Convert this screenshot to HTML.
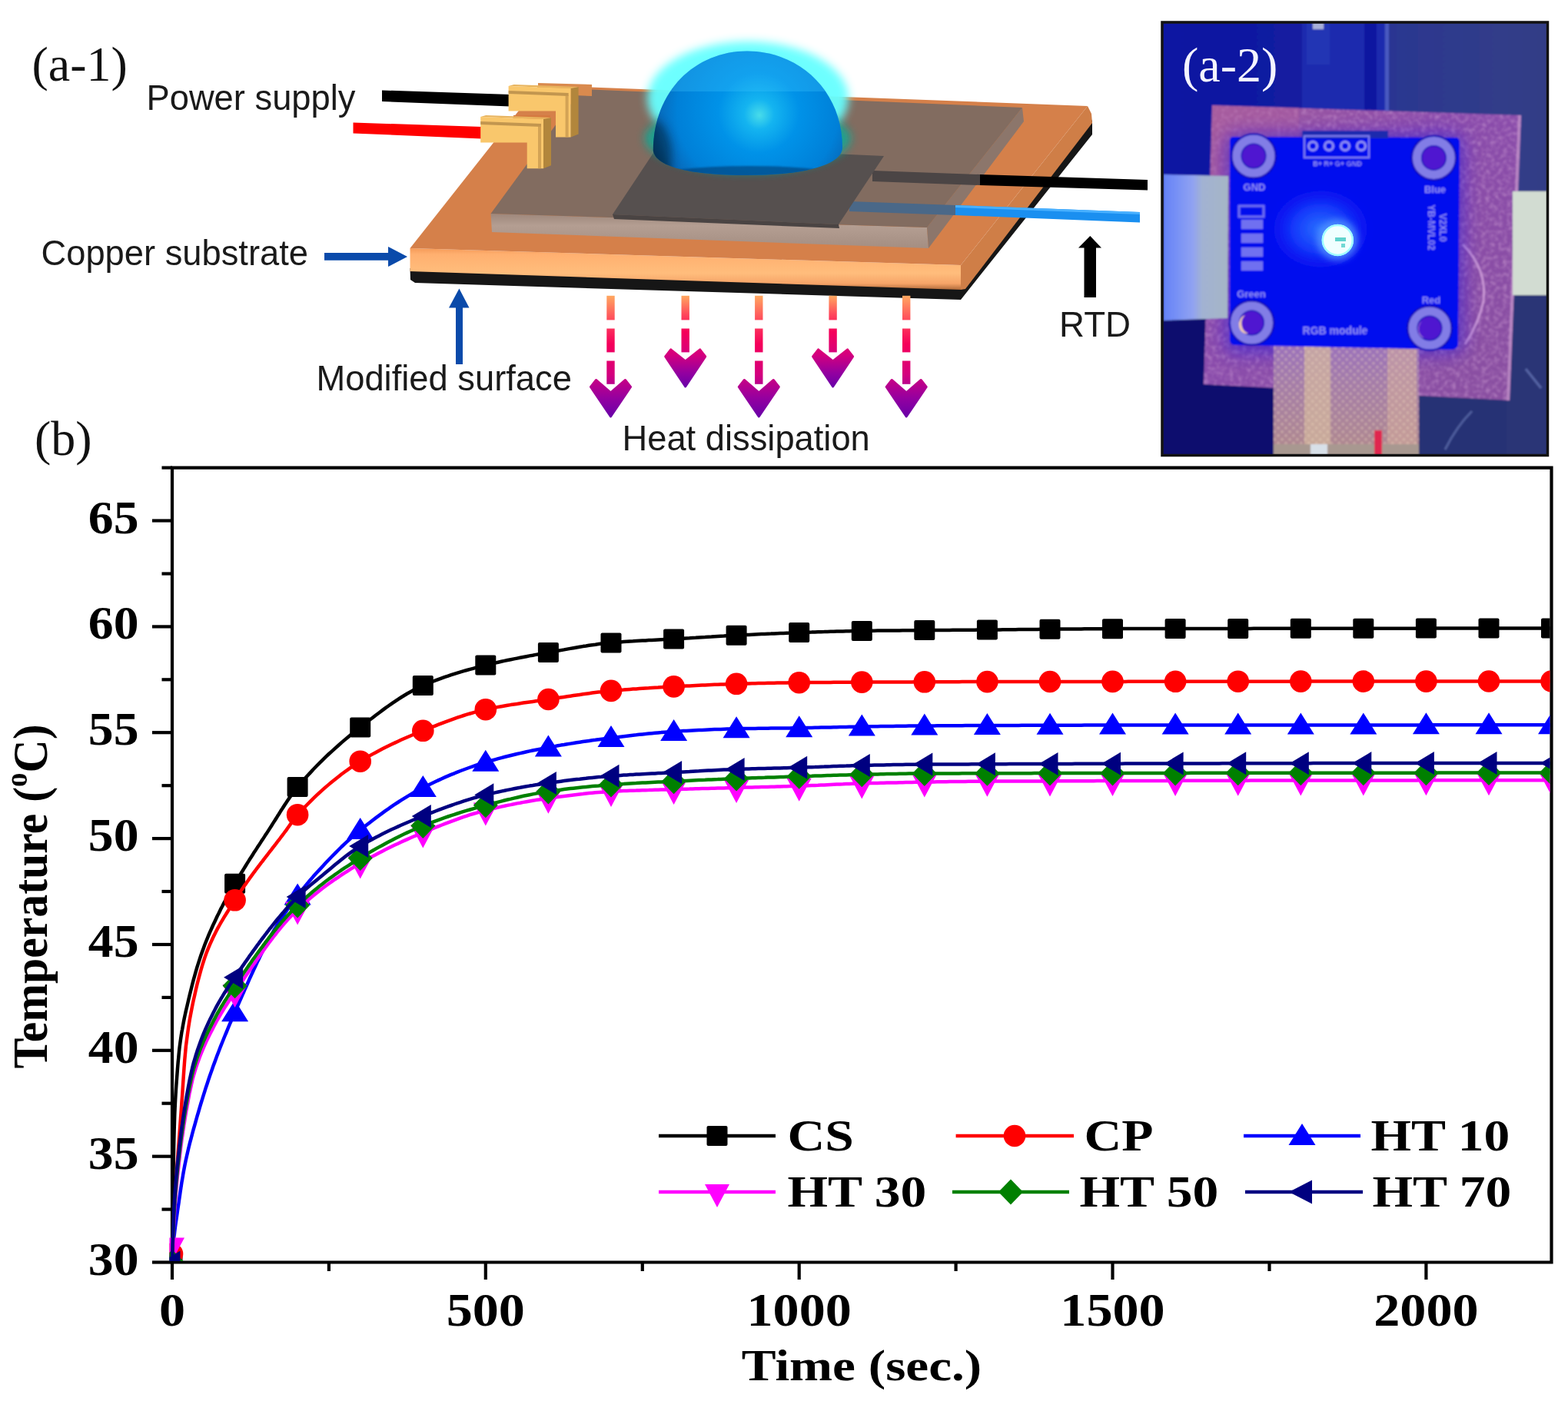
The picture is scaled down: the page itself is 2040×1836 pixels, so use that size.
<!DOCTYPE html>
<html><head><meta charset="utf-8"><title>Figure</title>
<style>html,body{margin:0;padding:0;background:#fff;} svg{display:block;}</style></head>
<body>
<svg xmlns="http://www.w3.org/2000/svg" width="2040" height="1836" viewBox="0 0 2040 1836">
<rect width="2040" height="1836" fill="#fff"/>
<defs>
<linearGradient id="heatg" x1="0" y1="0" x2="0" y2="1">
 <stop offset="0" stop-color="#FFA860"/>
 <stop offset="0.2" stop-color="#FF4A5C"/>
 <stop offset="0.38" stop-color="#F5005A"/>
 <stop offset="0.62" stop-color="#D4007E"/>
 <stop offset="0.8" stop-color="#9A00A0"/>
 <stop offset="1" stop-color="#6A00A8"/>
</linearGradient>
<linearGradient id="frontg" x1="0" y1="0" x2="0" y2="1">
 <stop offset="0" stop-color="#F59A58"/>
 <stop offset="0.15" stop-color="#FFB070"/>
 <stop offset="0.6" stop-color="#FFBD7C"/>
 <stop offset="0.85" stop-color="#F6A468"/>
 <stop offset="1" stop-color="#B06A3A"/>
</linearGradient>
<radialGradient id="domeg" gradientUnits="userSpaceOnUse" cx="985" cy="140" r="150" fx="988" fy="150">
 <stop offset="0" stop-color="#48DCEA"/>
 <stop offset="0.13" stop-color="#14B4F0"/>
 <stop offset="0.35" stop-color="#0092E8"/>
 <stop offset="0.7" stop-color="#0080D8"/>
 <stop offset="0.88" stop-color="#0868B8"/>
 <stop offset="1" stop-color="#04406E"/>
</radialGradient>
<linearGradient id="domeb" x1="0" y1="0" x2="0" y2="1">
 <stop offset="0" stop-color="#000" stop-opacity="0"/>
 <stop offset="0.7" stop-color="#000" stop-opacity="0"/>
 <stop offset="1" stop-color="#0A2A55" stop-opacity="0.75"/>
</linearGradient>
<filter id="glow" x="-30%" y="-30%" width="160%" height="160%"><feGaussianBlur stdDeviation="6"/></filter>
<filter id="soft1" x="-10%" y="-10%" width="120%" height="120%"><feGaussianBlur stdDeviation="1.2"/></filter>
<linearGradient id="plateFront" x1="0" y1="0" x2="0" y2="1">
 <stop offset="0" stop-color="#9E877B"/>
 <stop offset="0.35" stop-color="#B49E92"/>
 <stop offset="1" stop-color="#A48E82"/>
</linearGradient>
</defs>
<polygon points="497,117.5 664,123 664,138.5 497,132" fill="#000"/>
<polygon points="459.5,159.5 627,165 627,180.5 459.5,173.5" fill="#FF0000"/>
<polygon points="533.5,349 1250,372 1418,150 1421,158 1421,175 1250,390 540,368 534,364" fill="#161616"/>
<polygon points="533.5,323 1250,345 1250,377 533.5,353" fill="url(#frontg)"/>
<polygon points="1250,345 1415,138 1420,148 1421,160 1256,376 1250,377" fill="#CF7E47"/>
<polygon points="533.5,323 1250,345 1415,138 701,111" fill="#D5804A"/>
<polygon points="638.5,278 1206,296 1208,323 640,302" fill="url(#plateFront)"/>
<polygon points="1206,296 1330,140 1332,158 1208,323" fill="#8C766B"/>
<polygon points="638.5,278 1206,296 1330,140 757,116" fill="#826C60"/>
<polygon points="1135,222 1275,227 1275,241 1135,236" fill="#4B4545"/>
<polygon points="1105,262 1243,267 1243,280 1105,275" fill="#4A6888"/>
<polygon points="797,279 1091,292 1150,203 856,190" fill="#56504F"/>
<polygon points="797,279 1091,292 1092,297 799,285" fill="#4A4443"/>
<polygon points="1275,227 1493,234 1493,247.5 1275,241" fill="#000"/>
<polygon points="1243,267 1483,276 1483,289.5 1243,280" fill="#1A8FF0"/>
<polygon points="1243,267 1483,276 1483,279 1243,270" fill="#48B0FF"/>
<ellipse cx="973" cy="128" rx="131" ry="74" fill="#66FFFF" opacity="0.95" filter="url(#glow)"/>
<ellipse cx="973" cy="180" rx="134" ry="44" fill="#12A592" opacity="0.95" filter="url(#glow)"/>
<path d="M849.8,196 C849.8,118 905,66.5 972,66.5 C1040,66.5 1096,118 1096,192 C1096,214 1048,228 972,228 C902,228 853,218 849.8,196 Z" fill="url(#domeg)"/>
<clipPath id="domeclip"><path d="M849.8,196 C849.8,118 905,66.5 972,66.5 C1040,66.5 1096,118 1096,192 C1096,214 1048,228 972,228 C902,228 853,218 849.8,196 Z"/></clipPath>
<g clip-path="url(#domeclip)"><rect x="840" y="60" width="270" height="59" fill="#40C8FF" opacity="0.28"/><ellipse cx="848" cy="205" rx="26" ry="50" fill="#002540" opacity="0.6" filter="url(#glow)"/><ellipse cx="975" cy="232" rx="130" ry="16" fill="#003A70" opacity="0.6" filter="url(#soft1)"/></g>
<polygon points="700,108 770,110 770,125 700,122" fill="#D98A4E"/>
<polygon points="668,150 716,150 716,178 668,178" fill="#D57A40"/>
<polygon points="742.6,115 752.6,113 752.6,174.5 742.6,178.5" fill="#B2863C"/>
<polygon points="661.6,112 668.6,110 752.6,113 742.6,115" fill="#E8B45E"/>
<polygon points="661.6,112 742.6,115 742.6,178.5 723,178.5 723,144.5 661.6,144.5" fill="#F9C76C"/>
<polygon points="661.6,118 739.6,121 739.6,125 661.6,122" fill="#B48A48" opacity="0.8"/>
<polygon points="735.6,124 739.6,124 739.6,178.5 735.6,178.5" fill="#C99A50" opacity="0.8"/>
<polygon points="707,155 717,153 717,215.3 707,219.3" fill="#B2863C"/>
<polygon points="625.2,152 632.2,150 717,153 707,155" fill="#E8B45E"/>
<polygon points="625.2,152 707,155 707,219.3 685.7,219.3 685.7,185.5 625.2,185.5" fill="#F9C76C"/>
<polygon points="625.2,158 704,161 704,165 625.2,162" fill="#B48A48" opacity="0.8"/>
<polygon points="700,164 704,164 704,219.3 700,219.3" fill="#C99A50" opacity="0.8"/>
<linearGradient id="hg794" gradientUnits="userSpaceOnUse" x1="0" y1="384.8" x2="0" y2="542"><stop offset="0" stop-color="#FFA860"/><stop offset="0.2" stop-color="#FF4A5C"/><stop offset="0.4" stop-color="#F5005A"/><stop offset="0.65" stop-color="#D4007E"/><stop offset="0.85" stop-color="#9400A0"/><stop offset="1" stop-color="#6A00A8"/></linearGradient><rect x="789.3" y="384.8" width="10.4" height="31.6" fill="url(#hg794)"/>
<rect x="789.3" y="427.5" width="10.4" height="30.9" fill="url(#hg794)"/>
<rect x="789.3" y="469.5" width="10.4" height="30.3" fill="url(#hg794)"/>
<polygon points="768.5,503.5 775.5,494.5 794.5,511 813.5,494.5 820.5,503.5 794.5,542" fill="url(#hg794)" stroke="url(#hg794)" stroke-width="3" stroke-linejoin="round"/>
<linearGradient id="hg891" gradientUnits="userSpaceOnUse" x1="0" y1="384.8" x2="0" y2="503"><stop offset="0" stop-color="#FFA860"/><stop offset="0.2" stop-color="#FF4A5C"/><stop offset="0.4" stop-color="#F5005A"/><stop offset="0.65" stop-color="#D4007E"/><stop offset="0.85" stop-color="#9400A0"/><stop offset="1" stop-color="#6A00A8"/></linearGradient><rect x="886.5" y="384.8" width="10.4" height="31.6" fill="url(#hg891)"/>
<rect x="886.5" y="427.5" width="10.4" height="30.9" fill="url(#hg891)"/>
<polygon points="865.7,463.8 872.7,454.8 891.7,470 910.7,454.8 917.7,463.8 891.7,503" fill="url(#hg891)" stroke="url(#hg891)" stroke-width="3" stroke-linejoin="round"/>
<linearGradient id="hg987" gradientUnits="userSpaceOnUse" x1="0" y1="384.8" x2="0" y2="542"><stop offset="0" stop-color="#FFA860"/><stop offset="0.2" stop-color="#FF4A5C"/><stop offset="0.4" stop-color="#F5005A"/><stop offset="0.65" stop-color="#D4007E"/><stop offset="0.85" stop-color="#9400A0"/><stop offset="1" stop-color="#6A00A8"/></linearGradient><rect x="982.1" y="384.8" width="10.4" height="31.6" fill="url(#hg987)"/>
<rect x="982.1" y="427.5" width="10.4" height="30.9" fill="url(#hg987)"/>
<rect x="982.1" y="469.5" width="10.4" height="30.3" fill="url(#hg987)"/>
<polygon points="961.3,503.5 968.3,494.5 987.3,511 1006.3,494.5 1013.3,503.5 987.3,542" fill="url(#hg987)" stroke="url(#hg987)" stroke-width="3" stroke-linejoin="round"/>
<linearGradient id="hg1083" gradientUnits="userSpaceOnUse" x1="0" y1="384.8" x2="0" y2="503"><stop offset="0" stop-color="#FFA860"/><stop offset="0.2" stop-color="#FF4A5C"/><stop offset="0.4" stop-color="#F5005A"/><stop offset="0.65" stop-color="#D4007E"/><stop offset="0.85" stop-color="#9400A0"/><stop offset="1" stop-color="#6A00A8"/></linearGradient><rect x="1078.4" y="384.8" width="10.4" height="31.6" fill="url(#hg1083)"/>
<rect x="1078.4" y="427.5" width="10.4" height="30.9" fill="url(#hg1083)"/>
<polygon points="1057.6,463.8 1064.6,454.8 1083.6,470 1102.6,454.8 1109.6,463.8 1083.6,503" fill="url(#hg1083)" stroke="url(#hg1083)" stroke-width="3" stroke-linejoin="round"/>
<linearGradient id="hg1179" gradientUnits="userSpaceOnUse" x1="0" y1="384.8" x2="0" y2="542"><stop offset="0" stop-color="#FFA860"/><stop offset="0.2" stop-color="#FF4A5C"/><stop offset="0.4" stop-color="#F5005A"/><stop offset="0.65" stop-color="#D4007E"/><stop offset="0.85" stop-color="#9400A0"/><stop offset="1" stop-color="#6A00A8"/></linearGradient><rect x="1174.0" y="384.8" width="10.4" height="31.6" fill="url(#hg1179)"/>
<rect x="1174.0" y="427.5" width="10.4" height="30.9" fill="url(#hg1179)"/>
<rect x="1174.0" y="469.5" width="10.4" height="30.3" fill="url(#hg1179)"/>
<polygon points="1153.2,503.5 1160.2,494.5 1179.2,511 1198.2,494.5 1205.2,503.5 1179.2,542" fill="url(#hg1179)" stroke="url(#hg1179)" stroke-width="3" stroke-linejoin="round"/>
<polygon points="422,329 505,329 505,321 530,334 505,347 505,338.7 422,338.7" fill="#0A4AAA"/>
<polygon points="593,474 593,400.5 584,400.5 597.4,375.5 610.5,400.5 602,400.5 602,474" fill="#0A4AAA"/>
<polygon points="1410.5,387 1410.5,322.5 1403,322.5 1418.3,307 1433,322.5 1426,322.5 1426,387" fill="#000"/>
<g font-family="Liberation Sans, Arial, sans-serif" font-size="45.3" fill="#1a1a1a">
<text x="190.5" y="142.5">Power supply</text>
<text x="53.5" y="345">Copper substrate</text>
<text x="411.5" y="508">Modified surface</text>
<text x="809.5" y="586">Heat dissipation</text>
<text x="1378" y="437.5" textLength="93" lengthAdjust="spacingAndGlyphs">RTD</text>
</g>
<g font-family="Liberation Serif, Times New Roman, serif" font-size="64" fill="#111">
<text x="41.5" y="104.5">(a-1)</text>
<text x="45" y="592">(b)</text>
</g>
<defs>
<clipPath id="photoclip"><rect x="1512" y="29" width="501.5" height="563.5"/></clipPath>
<linearGradient id="bgg" x1="0" y1="0" x2="1" y2="0">
 <stop offset="0" stop-color="#0A12A2"/>
 <stop offset="0.45" stop-color="#1620A0"/>
 <stop offset="0.62" stop-color="#2C3890"/>
 <stop offset="1" stop-color="#333E86"/>
</linearGradient>
<linearGradient id="tapeL" x1="0" y1="0" x2="1" y2="0">
 <stop offset="0" stop-color="#6482F8"/>
 <stop offset="0.45" stop-color="#90A2F2"/>
 <stop offset="0.6" stop-color="#A2B2D2"/>
 <stop offset="1" stop-color="#A6B6C6"/>
</linearGradient>
<linearGradient id="tapeBv" x1="0" y1="0" x2="0" y2="1">
 <stop offset="0" stop-color="#9A70BC"/>
 <stop offset="0.35" stop-color="#A47CA8"/>
 <stop offset="1" stop-color="#B08A8C"/>
</linearGradient>
<linearGradient id="copg" x1="0" y1="0" x2="1" y2="1">
 <stop offset="0" stop-color="#A05A9C"/>
 <stop offset="0.4" stop-color="#8A4CAC"/>
 <stop offset="1" stop-color="#8A50A0"/>
</linearGradient>
<radialGradient id="ledglow" cx="0.5" cy="0.5" r="0.5">
 <stop offset="0" stop-color="#2A70FF"/>
 <stop offset="0.45" stop-color="#1438FA"/>
 <stop offset="1" stop-color="#0308EE" stop-opacity="0"/>
</radialGradient>
<filter id="pblur" x="-5%" y="-5%" width="110%" height="110%"><feGaussianBlur stdDeviation="1.3"/></filter>
<filter id="pblur10" x="-30%" y="-30%" width="160%" height="160%"><feGaussianBlur stdDeviation="10"/></filter>
<pattern id="mesh" width="7" height="7" patternUnits="userSpaceOnUse" patternTransform="rotate(45)">
 <rect width="7" height="7" fill="none"/><rect x="0" y="0" width="3.5" height="3.5" fill="#F0D8C0" opacity="0.35"/>
</pattern>
<filter id="pblur4" x="-50%" y="-50%" width="200%" height="200%"><feGaussianBlur stdDeviation="4"/></filter>
<filter id="noise" x="0" y="0" width="100%" height="100%">
 <feTurbulence type="fractalNoise" baseFrequency="0.18" numOctaves="2" seed="4" result="n"/>
 <feColorMatrix in="n" type="matrix" values="0 0 0 0 0.75  0 0 0 0 0.45  0 0 0 0 0.75  0 0 0 2.2 -0.95" result="c"/>
 <feComposite in="c" in2="SourceGraphic" operator="in"/>
</filter>
</defs>
<g clip-path="url(#photoclip)">
<g filter="url(#pblur)">
<rect x="1512" y="29" width="501.5" height="563.5" fill="url(#bgg)"/>
<rect x="1512" y="405" width="150" height="190" fill="#0A106E"/>
<rect x="1840" y="505" width="180" height="90" fill="#283274"/>
<rect x="1960" y="380" width="60" height="215" fill="#2C3676"/>
<rect x="1694" y="29" width="112" height="145" fill="#1A2AAE"/>
<rect x="1700" y="29" width="30" height="55" fill="#2236B4"/>
<rect x="1708" y="29" width="14" height="9" fill="#A8B0D8"/>
<rect x="1775" y="29" width="16" height="140" fill="#0E14A0"/>
<rect x="1802" y="29" width="5" height="145" fill="#4A5AC0"/>
<polygon points="1577,137 1979,150 1964,521 1566,500" fill="url(#copg)"/>
<polygon points="1577,137 1979,150 1964,521 1566,500" fill="#fff" filter="url(#noise)" opacity="0.45"/>
<polygon points="1975,150 1979,150 1964,521 1960,521" fill="#C090C8" opacity="0.8"/>
<polygon points="1577,137 1690,140 1690,178 1600,178 1598,230 1576,230" fill="#B060A0" opacity="0.45"/>
<path d="M1903,318 Q1935,350 1930,392 Q1924,420 1906,448" fill="none" stroke="#D8A8E0" stroke-width="3" opacity="0.75"/>
<path d="M1985,480 L2005,505" fill="none" stroke="#6070B0" stroke-width="3" opacity="0.8"/>
<path d="M1880,585 Q1895,555 1915,535" fill="none" stroke="#5868A8" stroke-width="3" opacity="0.8"/>
<rect x="1592" y="172" width="314" height="290" rx="20" fill="#2010E0" opacity="0.45" filter="url(#pblur10)"/>
<polygon points="1514,227 1598,229 1597,414 1514,417" fill="url(#tapeL)"/>
<rect x="1968" y="249" width="48" height="135" fill="#D2DCD2"/>
<rect x="1657" y="447" width="189" height="147" fill="url(#tapeBv)"/>
<rect x="1697" y="447" width="34" height="147" fill="#D2B49E" opacity="0.75"/>
<rect x="1805" y="447" width="38" height="147" fill="#D0A89C" opacity="0.6"/>
<rect x="1657" y="447" width="189" height="147" fill="url(#mesh)"/>
<rect x="1657" y="578" width="189" height="16" fill="#A89890"/>
<rect x="1705" y="578" width="22" height="16" fill="#D8E0E8"/>
<rect x="1788" y="560" width="10" height="34" fill="#E02850"/>
<path d="M1604,178 L1895,179 Q1899,180 1899,186 L1897,448 Q1896,455 1888,455 L1606,449 Q1600,448 1600,442 L1600,184 Q1600,178 1604,178 Z" fill="#0308EE"/>
<rect x="1694" y="170" width="112" height="10" fill="#1A2AAE"/>
<ellipse cx="1718" cy="298" rx="80" ry="66" fill="url(#ledglow)"/>
<rect x="1697" y="177" width="84" height="28" fill="none" stroke="#7C7CF0" stroke-width="2.5"/>
<circle cx="1708" cy="190" r="5.5" fill="none" stroke="#9090F4" stroke-width="3"/>
<circle cx="1729" cy="190" r="5.5" fill="none" stroke="#9090F4" stroke-width="3"/>
<circle cx="1750" cy="190" r="5.5" fill="none" stroke="#9090F4" stroke-width="3"/>
<circle cx="1771" cy="190" r="5.5" fill="none" stroke="#9090F4" stroke-width="3"/>
<rect x="1615" y="286" width="28" height="12" fill="#7070F0"/>
<rect x="1615" y="304" width="28" height="12" fill="#7070F0"/>
<rect x="1615" y="322" width="28" height="12" fill="#7070F0"/>
<rect x="1615" y="340" width="28" height="12" fill="#7070F0"/>
<rect x="1612" y="268" width="32" height="14" fill="none" stroke="#7070F0" stroke-width="3"/>
<circle cx="1631" cy="203" r="30" fill="#1410B8"/>
<circle cx="1631" cy="203" r="22" fill="none" stroke="#827DE6" stroke-width="11"/>
<circle cx="1631" cy="203" r="15" fill="#5019D0"/>
<circle cx="1865.4" cy="205.4" r="30" fill="#1410B8"/>
<circle cx="1865.4" cy="205.4" r="22" fill="none" stroke="#827DE6" stroke-width="11"/>
<circle cx="1865.4" cy="205.4" r="15" fill="#5019D0"/>
<circle cx="1628.5" cy="420" r="30" fill="#1410B8"/>
<circle cx="1628.5" cy="420" r="22" fill="none" stroke="#827DE6" stroke-width="11"/>
<circle cx="1628.5" cy="420" r="15" fill="#5019D0"/>
<circle cx="1860" cy="427" r="30" fill="#1410B8"/>
<circle cx="1860" cy="427" r="22" fill="none" stroke="#827DE6" stroke-width="11"/>
<circle cx="1860" cy="427" r="15" fill="#5019D0"/>
<path d="M1620,410 A13,14 0 0,0 1624,434 A10,12 0 0,1 1620,410 Z" fill="#F0C8B0"/>
<path d="M1850,418 A12,13 0 0,0 1853,440 A10,12 0 0,1 1850,418 Z" fill="#E8B0D8"/>
<g font-family="Liberation Sans, sans-serif" font-weight="bold" font-size="13" fill="#8C8CF4" text-anchor="middle">
<text x="1632" y="248">GND</text><text x="1867" y="251">Blue</text>
<text x="1628" y="387">Green</text><text x="1862" y="395">Red</text>
<text x="1737" y="435" font-size="14">RGB  module</text>
<text x="1740" y="216" font-size="9">B+  R+  G+  GND</text>
<text transform="translate(1858,296) rotate(90)" font-size="12">YB-MVL02</text>
<text transform="translate(1873,296) rotate(90)" font-size="12">V2XL0</text>
</g>
</g>
<circle cx="1740" cy="312" r="27" fill="#5A9CFF" opacity="0.7" filter="url(#pblur4)"/>
<circle cx="1740.3" cy="312.4" r="20.5" fill="#F0FFFF"/>
<circle cx="1740.3" cy="312.4" r="19.5" fill="none" stroke="#A0FFFF" stroke-width="2.5"/>
<rect x="1737" y="309" width="14" height="5" fill="#3CC8C0" opacity="0.8"/>
<rect x="1745" y="317" width="5" height="5" fill="#3CC8C0" opacity="0.7"/>
</g>
<rect x="1512" y="29" width="501.5" height="563.5" fill="none" stroke="#111" stroke-width="3.5"/>
<text x="1538" y="106" font-family="Liberation Serif, serif" font-size="64" fill="#F4F4FF">(a-2)</text>
<g stroke="#000" stroke-width="4.2" fill="none" stroke-linecap="butt">
<path d="M224,608.6 L224,1642.5 L2018.5,1642.5 L2018.5,608.6 Z" stroke-linejoin="miter"/>
<line x1="198" y1="1642.5" x2="224" y2="1642.5"/>
<line x1="210.5" y1="1573.6" x2="224" y2="1573.6"/>
<line x1="198" y1="1504.7" x2="224" y2="1504.7"/>
<line x1="210.5" y1="1435.7" x2="224" y2="1435.7"/>
<line x1="198" y1="1366.8" x2="224" y2="1366.8"/>
<line x1="210.5" y1="1297.9" x2="224" y2="1297.9"/>
<line x1="198" y1="1229.0" x2="224" y2="1229.0"/>
<line x1="210.5" y1="1160.0" x2="224" y2="1160.0"/>
<line x1="198" y1="1091.1" x2="224" y2="1091.1"/>
<line x1="210.5" y1="1022.2" x2="224" y2="1022.2"/>
<line x1="198" y1="953.2" x2="224" y2="953.2"/>
<line x1="210.5" y1="884.3" x2="224" y2="884.3"/>
<line x1="198" y1="815.4" x2="224" y2="815.4"/>
<line x1="210.5" y1="746.5" x2="224" y2="746.5"/>
<line x1="198" y1="677.5" x2="224" y2="677.5"/>
<line x1="210.5" y1="608.6" x2="224" y2="608.6"/>
<line x1="224.0" y1="1642.5" x2="224.0" y2="1665.0"/>
<line x1="427.9" y1="1642.5" x2="427.9" y2="1654.0"/>
<line x1="631.8" y1="1642.5" x2="631.8" y2="1665.0"/>
<line x1="835.8" y1="1642.5" x2="835.8" y2="1654.0"/>
<line x1="1039.7" y1="1642.5" x2="1039.7" y2="1665.0"/>
<line x1="1243.6" y1="1642.5" x2="1243.6" y2="1654.0"/>
<line x1="1447.5" y1="1642.5" x2="1447.5" y2="1665.0"/>
<line x1="1651.5" y1="1642.5" x2="1651.5" y2="1654.0"/>
<line x1="1855.4" y1="1642.5" x2="1855.4" y2="1665.0"/>
</g>
<defs><clipPath id="plotclip"><rect x="220.5" y="610.6" width="1796.0" height="1030.4"/></clipPath></defs>
<g clip-path="url(#plotclip)">
<path d="M224.0,1642.5 L224.4,1606.2 L224.8,1573.6 L225.2,1543.8 L225.6,1518.4 L226.0,1497.3 L226.4,1478.1 L226.9,1461.8 L227.3,1449.5 L227.7,1440.2 L228.1,1432.1 L228.5,1425.0 L228.9,1418.7 L229.3,1412.9 L229.7,1407.6 L230.1,1402.4 L230.5,1397.1 L230.9,1391.9 L231.3,1386.7 L231.7,1381.7 L232.2,1377.0 L232.6,1372.5 L233.0,1368.4 L233.4,1364.6 L233.8,1361.3 L234.2,1358.3 L234.6,1355.3 L235.0,1352.5 L235.4,1349.7 L235.8,1347.1 L236.2,1344.5 L236.6,1342.0 L237.1,1339.6 L237.5,1337.3 L237.9,1335.0 L238.3,1332.8 L238.7,1330.6 L239.1,1328.5 L239.5,1326.5 L239.9,1324.5 L240.3,1322.6 L241.9,1315.2 L243.6,1308.2 L245.2,1301.3 L246.8,1294.4 L248.5,1287.7 L250.1,1281.3 L251.7,1275.1 L253.4,1269.1 L255.0,1263.4 L256.6,1257.9 L258.3,1252.6 L259.9,1247.6 L261.5,1242.7 L263.2,1238.1 L264.8,1233.7 L266.4,1229.3 L268.0,1225.2 L269.7,1221.1 L271.3,1217.2 L272.9,1213.4 L274.6,1209.6 L276.2,1206.0 L277.8,1202.4 L279.5,1198.9 L281.1,1195.5 L282.7,1192.0 L284.4,1188.7 L286.0,1185.4 L287.6,1182.1 L289.3,1179.0 L290.9,1175.9 L292.5,1172.8 L294.2,1169.8 L295.8,1166.9 L297.4,1164.0 L299.0,1161.1 L300.7,1158.3 L302.3,1155.4 L303.9,1152.6 L305.6,1149.8 L307.2,1147.0 L308.8,1144.3 L310.5,1141.5 L312.1,1138.8 L313.7,1136.1 L315.4,1133.5 L317.0,1130.8 L318.6,1128.2 L320.3,1125.5 L321.9,1122.9 L323.5,1120.4 L325.1,1117.8 L326.8,1115.2 L328.4,1112.7 L330.0,1110.1 L331.7,1107.6 L333.3,1105.1 L334.9,1102.6 L336.6,1100.1 L338.2,1097.6 L339.8,1095.1 L341.5,1092.6 L343.1,1090.1 L344.7,1087.6 L346.4,1085.1 L348.0,1082.6 L349.6,1080.1 L351.2,1077.6 L352.9,1075.0 L354.5,1072.4 L356.1,1069.9 L357.8,1067.3 L359.4,1064.7 L361.0,1062.1 L362.7,1059.5 L364.3,1056.9 L365.9,1054.3 L367.6,1051.8 L369.2,1049.2 L370.8,1046.7 L372.5,1044.2 L374.1,1041.8 L375.7,1039.4 L377.4,1037.0 L379.0,1034.7 L380.6,1032.5 L382.2,1030.3 L383.9,1028.2 L385.5,1026.1 L387.1,1024.1 L391.2,1019.3 L395.3,1014.6 L399.4,1010.0 L403.5,1005.6 L407.5,1001.2 L411.6,997.0 L415.7,992.9 L419.8,988.8 L423.8,984.9 L427.9,981.0 L432.0,977.3 L436.1,973.6 L440.2,970.0 L444.2,966.4 L448.3,962.9 L452.4,959.5 L456.5,956.1 L460.6,952.8 L464.6,949.6 L468.7,946.4 L472.8,943.2 L476.9,940.0 L480.9,936.8 L485.0,933.7 L489.1,930.5 L493.2,927.5 L497.3,924.4 L501.3,921.4 L505.4,918.5 L509.5,915.7 L513.6,912.9 L517.7,910.1 L521.7,907.5 L525.8,905.0 L529.9,902.5 L534.0,900.2 L538.0,898.0 L542.1,895.9 L546.2,893.9 L550.3,892.0 L554.4,890.3 L558.4,888.6 L562.5,887.0 L566.6,885.4 L570.7,883.9 L574.8,882.4 L578.8,880.9 L582.9,879.6 L587.0,878.2 L591.1,876.9 L595.1,875.6 L599.2,874.4 L603.3,873.2 L607.4,872.0 L611.5,870.9 L615.5,869.8 L619.6,868.7 L623.7,867.6 L627.8,866.6 L631.8,865.6 L635.9,864.6 L640.0,863.6 L644.1,862.6 L648.2,861.7 L652.2,860.8 L656.3,859.9 L660.4,859.0 L664.5,858.2 L668.6,857.4 L672.6,856.6 L676.7,855.8 L680.8,855.0 L684.9,854.2 L688.9,853.4 L693.0,852.7 L697.1,851.9 L701.2,851.2 L705.3,850.5 L709.3,849.8 L713.4,849.0 L717.5,848.3 L721.6,847.6 L725.7,846.8 L729.7,846.1 L733.8,845.4 L737.9,844.6 L742.0,843.9 L746.0,843.2 L750.1,842.5 L754.2,841.8 L758.3,841.1 L762.4,840.5 L766.4,839.8 L770.5,839.2 L774.6,838.7 L778.7,838.1 L782.8,837.6 L786.8,837.2 L790.9,836.7 L795.0,836.4 L799.1,836.0 L803.1,835.7 L807.2,835.4 L811.3,835.1 L815.4,834.8 L819.5,834.5 L823.5,834.3 L827.6,834.0 L831.7,833.8 L835.8,833.6 L839.9,833.4 L843.9,833.1 L848.0,832.9 L852.1,832.7 L856.2,832.5 L860.2,832.3 L864.3,832.1 L868.4,831.9 L872.5,831.6 L876.6,831.4 L880.6,831.1 L884.7,830.9 L888.8,830.7 L892.9,830.4 L897.0,830.2 L901.0,829.9 L905.1,829.7 L909.2,829.4 L913.3,829.2 L917.3,829.0 L921.4,828.7 L925.5,828.5 L929.6,828.2 L933.7,828.0 L937.7,827.8 L941.8,827.6 L945.9,827.3 L950.0,827.1 L954.1,826.9 L958.1,826.7 L962.2,826.5 L966.3,826.3 L970.4,826.1 L974.4,825.9 L978.5,825.7 L982.6,825.5 L986.7,825.3 L990.8,825.1 L994.8,824.9 L998.9,824.7 L1003.0,824.6 L1007.1,824.4 L1011.2,824.2 L1015.2,824.0 L1019.3,823.9 L1023.4,823.7 L1027.5,823.6 L1031.5,823.4 L1035.6,823.3 L1039.7,823.1 L1043.8,823.0 L1047.9,822.8 L1051.9,822.7 L1056.0,822.6 L1060.1,822.4 L1064.2,822.3 L1068.2,822.2 L1072.3,822.1 L1076.4,821.9 L1080.5,821.8 L1084.6,821.7 L1088.6,821.6 L1092.7,821.5 L1096.8,821.4 L1100.9,821.3 L1105.0,821.2 L1109.0,821.1 L1113.1,821.0 L1117.2,821.0 L1121.3,820.9 L1125.3,820.9 L1129.4,820.8 L1133.5,820.7 L1137.6,820.7 L1141.7,820.6 L1145.7,820.6 L1149.8,820.6 L1153.9,820.5 L1158.0,820.5 L1162.1,820.4 L1166.1,820.4 L1170.2,820.4 L1174.3,820.3 L1178.4,820.3 L1182.4,820.3 L1186.5,820.2 L1190.6,820.2 L1194.7,820.2 L1198.8,820.1 L1202.8,820.1 L1206.9,820.1 L1211.0,820.0 L1215.1,820.0 L1219.2,820.0 L1223.2,819.9 L1227.3,819.9 L1231.4,819.9 L1235.5,819.9 L1239.5,819.8 L1243.6,819.8 L1247.7,819.8 L1251.8,819.8 L1255.9,819.7 L1259.9,819.7 L1264.0,819.7 L1268.1,819.7 L1272.2,819.6 L1276.3,819.6 L1280.3,819.6 L1284.4,819.5 L1288.5,819.5 L1292.6,819.5 L1296.6,819.4 L1300.7,819.4 L1304.8,819.3 L1308.9,819.3 L1313.0,819.3 L1317.0,819.2 L1321.1,819.2 L1325.2,819.1 L1329.3,819.1 L1333.4,819.0 L1337.4,819.0 L1341.5,818.9 L1345.6,818.9 L1349.7,818.9 L1353.7,818.8 L1357.8,818.8 L1361.9,818.7 L1366.0,818.7 L1370.1,818.7 L1374.1,818.6 L1378.2,818.6 L1382.3,818.6 L1386.4,818.5 L1390.5,818.5 L1394.5,818.5 L1398.6,818.4 L1402.7,818.4 L1406.8,818.4 L1410.8,818.3 L1414.9,818.3 L1419.0,818.3 L1423.1,818.3 L1427.2,818.2 L1431.2,818.2 L1435.3,818.2 L1439.4,818.2 L1443.5,818.2 L1447.5,818.2 L1451.6,818.1 L1455.7,818.1 L1459.8,818.1 L1463.9,818.1 L1467.9,818.1 L1472.0,818.1 L1476.1,818.1 L1480.2,818.1 L1484.3,818.1 L1488.3,818.1 L1492.4,818.1 L1496.5,818.1 L1500.6,818.1 L1504.6,818.0 L1508.7,818.0 L1512.8,818.0 L1516.9,818.0 L1521.0,818.0 L1525.0,818.0 L1529.1,818.0 L1533.2,818.0 L1537.3,818.0 L1541.4,818.0 L1545.4,818.0 L1549.5,818.0 L1553.6,818.0 L1557.7,818.0 L1561.7,817.9 L1565.8,817.9 L1569.9,817.9 L1574.0,817.9 L1578.1,817.9 L1582.1,817.9 L1586.2,817.9 L1590.3,817.9 L1594.4,817.9 L1598.5,817.9 L1602.5,817.9 L1606.6,817.9 L1610.7,817.9 L1614.8,817.9 L1618.8,817.9 L1622.9,817.9 L1627.0,817.9 L1631.1,817.8 L1635.2,817.8 L1639.2,817.8 L1643.3,817.8 L1647.4,817.8 L1651.5,817.8 L1655.6,817.8 L1659.6,817.8 L1663.7,817.8 L1667.8,817.8 L1671.9,817.8 L1675.9,817.8 L1680.0,817.8 L1684.1,817.8 L1688.2,817.8 L1692.3,817.8 L1696.3,817.8 L1700.4,817.8 L1704.5,817.8 L1708.6,817.8 L1712.7,817.8 L1716.7,817.7 L1720.8,817.7 L1724.9,817.7 L1729.0,817.7 L1733.0,817.7 L1737.1,817.7 L1741.2,817.7 L1745.3,817.7 L1749.4,817.7 L1753.4,817.7 L1757.5,817.7 L1761.6,817.7 L1765.7,817.7 L1769.8,817.7 L1773.8,817.7 L1777.9,817.7 L1782.0,817.7 L1786.1,817.7 L1790.1,817.7 L1794.2,817.7 L1798.3,817.7 L1802.4,817.7 L1806.5,817.7 L1810.5,817.7 L1814.6,817.7 L1818.7,817.7 L1822.8,817.7 L1826.9,817.7 L1830.9,817.7 L1835.0,817.7 L1839.1,817.7 L1843.2,817.7 L1847.2,817.6 L1851.3,817.6 L1855.4,817.6 L1859.5,817.6 L1863.6,817.6 L1867.6,817.6 L1871.7,817.6 L1875.8,817.6 L1879.9,817.6 L1883.9,817.6 L1888.0,817.6 L1892.1,817.6 L1896.2,817.6 L1900.3,817.6 L1904.3,817.6 L1908.4,817.6 L1912.5,817.6 L1916.6,817.6 L1920.7,817.6 L1924.7,817.6 L1928.8,817.6 L1932.9,817.6 L1937.0,817.6 L1941.0,817.6 L1945.1,817.6 L1949.2,817.6 L1953.3,817.6 L1957.4,817.6 L1961.4,817.6 L1965.5,817.6 L1969.6,817.6 L1973.7,817.6 L1977.8,817.6 L1981.8,817.6 L1985.9,817.6 L1990.0,817.6 L1994.1,817.6 L1998.1,817.6 L2002.2,817.6 L2006.3,817.6 L2010.4,817.6 L2014.5,817.6 L2018.5,817.6" fill="none" stroke="#000000" stroke-width="4.5" stroke-linejoin="round"/>
<rect x="210.5" y="1629.5" width="27" height="26" rx="2" fill="#000000"/>
<rect x="292.1" y="1136.8" width="27" height="26" rx="2" fill="#000000"/>
<rect x="373.6" y="1011.1" width="27" height="26" rx="2" fill="#000000"/>
<rect x="455.2" y="933.4" width="27" height="26" rx="2" fill="#000000"/>
<rect x="536.8" y="879.0" width="27" height="26" rx="2" fill="#000000"/>
<rect x="618.3" y="852.6" width="27" height="26" rx="2" fill="#000000"/>
<rect x="699.9" y="836.0" width="27" height="26" rx="2" fill="#000000"/>
<rect x="781.5" y="823.4" width="27" height="26" rx="2" fill="#000000"/>
<rect x="863.1" y="818.4" width="27" height="26" rx="2" fill="#000000"/>
<rect x="944.6" y="813.7" width="27" height="26" rx="2" fill="#000000"/>
<rect x="1026.2" y="810.1" width="27" height="26" rx="2" fill="#000000"/>
<rect x="1107.8" y="807.9" width="27" height="26" rx="2" fill="#000000"/>
<rect x="1189.3" y="807.1" width="27" height="26" rx="2" fill="#000000"/>
<rect x="1270.9" y="806.5" width="27" height="26" rx="2" fill="#000000"/>
<rect x="1352.5" y="805.7" width="27" height="26" rx="2" fill="#000000"/>
<rect x="1434.0" y="805.2" width="27" height="26" rx="2" fill="#000000"/>
<rect x="1515.6" y="805.0" width="27" height="26" rx="2" fill="#000000"/>
<rect x="1597.2" y="804.9" width="27" height="26" rx="2" fill="#000000"/>
<rect x="1678.8" y="804.8" width="27" height="26" rx="2" fill="#000000"/>
<rect x="1760.3" y="804.7" width="27" height="26" rx="2" fill="#000000"/>
<rect x="1841.9" y="804.6" width="27" height="26" rx="2" fill="#000000"/>
<rect x="1923.5" y="804.6" width="27" height="26" rx="2" fill="#000000"/>
<rect x="2005.0" y="804.6" width="27" height="26" rx="2" fill="#000000"/>
<path d="M224.0,1642.5 L224.4,1631.3 L224.8,1620.6 L225.2,1610.5 L225.6,1601.1 L226.0,1592.4 L226.4,1584.1 L226.9,1576.2 L227.3,1568.6 L227.7,1561.3 L228.1,1554.3 L228.5,1547.5 L228.9,1540.9 L229.3,1534.5 L229.7,1528.4 L230.1,1522.3 L230.5,1516.4 L230.9,1510.5 L231.3,1504.7 L231.7,1498.9 L232.2,1493.2 L232.6,1487.6 L233.0,1482.1 L233.4,1476.7 L233.8,1471.2 L234.2,1465.8 L234.6,1460.4 L235.0,1455.0 L235.4,1449.5 L235.8,1443.9 L236.2,1438.0 L236.6,1432.0 L237.1,1425.9 L237.5,1419.8 L237.9,1413.6 L238.3,1407.4 L238.7,1401.3 L239.1,1395.4 L239.5,1389.6 L239.9,1384.1 L240.3,1378.8 L241.9,1361.3 L243.6,1348.2 L245.2,1336.7 L246.8,1326.6 L248.5,1317.6 L250.1,1309.3 L251.7,1301.6 L253.4,1294.2 L255.0,1287.1 L256.6,1280.3 L258.3,1273.8 L259.9,1267.6 L261.5,1261.8 L263.2,1256.2 L264.8,1251.0 L266.4,1246.1 L268.0,1241.5 L269.7,1237.2 L271.3,1233.2 L272.9,1229.3 L274.6,1225.6 L276.2,1222.0 L277.8,1218.6 L279.5,1215.3 L281.1,1212.1 L282.7,1208.9 L284.4,1205.9 L286.0,1203.0 L287.6,1200.1 L289.3,1197.3 L290.9,1194.6 L292.5,1191.9 L294.2,1189.3 L295.8,1186.7 L297.4,1184.1 L299.0,1181.6 L300.7,1179.0 L302.3,1176.5 L303.9,1173.9 L305.6,1171.3 L307.2,1168.8 L308.8,1166.2 L310.5,1163.7 L312.1,1161.2 L313.7,1158.8 L315.4,1156.4 L317.0,1154.0 L318.6,1151.6 L320.3,1149.3 L321.9,1147.0 L323.5,1144.7 L325.1,1142.4 L326.8,1140.1 L328.4,1137.9 L330.0,1135.7 L331.7,1133.5 L333.3,1131.3 L334.9,1129.1 L336.6,1127.0 L338.2,1124.8 L339.8,1122.7 L341.5,1120.6 L343.1,1118.4 L344.7,1116.3 L346.4,1114.2 L348.0,1112.1 L349.6,1110.0 L351.2,1107.9 L352.9,1105.8 L354.5,1103.7 L356.1,1101.6 L357.8,1099.5 L359.4,1097.4 L361.0,1095.2 L362.7,1093.1 L364.3,1091.0 L365.9,1088.8 L367.6,1086.6 L369.2,1084.5 L370.8,1082.3 L372.5,1080.1 L374.1,1077.8 L375.7,1075.5 L377.4,1073.2 L379.0,1070.8 L380.6,1068.5 L382.2,1066.3 L383.9,1064.1 L385.5,1062.1 L387.1,1060.2 L391.2,1055.8 L395.3,1051.4 L399.4,1047.2 L403.5,1043.1 L407.5,1039.1 L411.6,1035.2 L415.7,1031.4 L419.8,1027.7 L423.8,1024.1 L427.9,1020.6 L432.0,1017.2 L436.1,1013.9 L440.2,1010.7 L444.2,1007.5 L448.3,1004.5 L452.4,1001.6 L456.5,998.7 L460.6,996.0 L464.6,993.3 L468.7,990.7 L472.8,988.2 L476.9,985.8 L480.9,983.4 L485.0,981.1 L489.1,978.9 L493.2,976.7 L497.3,974.6 L501.3,972.5 L505.4,970.5 L509.5,968.5 L513.6,966.6 L517.7,964.7 L521.7,962.8 L525.8,961.0 L529.9,959.2 L534.0,957.5 L538.0,955.8 L542.1,954.1 L546.2,952.4 L550.3,950.8 L554.4,949.1 L558.4,947.5 L562.5,945.9 L566.6,944.3 L570.7,942.7 L574.8,941.1 L578.8,939.6 L582.9,938.1 L587.0,936.6 L591.1,935.1 L595.1,933.7 L599.2,932.3 L603.3,931.0 L607.4,929.7 L611.5,928.5 L615.5,927.3 L619.6,926.2 L623.7,925.1 L627.8,924.1 L631.8,923.2 L635.9,922.3 L640.0,921.5 L644.1,920.7 L648.2,919.9 L652.2,919.2 L656.3,918.5 L660.4,917.8 L664.5,917.1 L668.6,916.5 L672.6,915.9 L676.7,915.2 L680.8,914.6 L684.9,914.0 L688.9,913.5 L693.0,912.9 L697.1,912.3 L701.2,911.7 L705.3,911.1 L709.3,910.6 L713.4,910.0 L717.5,909.4 L721.6,908.7 L725.7,908.1 L729.7,907.5 L733.8,906.9 L737.9,906.3 L742.0,905.7 L746.0,905.1 L750.1,904.5 L754.2,903.9 L758.3,903.3 L762.4,902.7 L766.4,902.2 L770.5,901.6 L774.6,901.1 L778.7,900.6 L782.8,900.2 L786.8,899.7 L790.9,899.3 L795.0,898.9 L799.1,898.6 L803.1,898.2 L807.2,897.9 L811.3,897.6 L815.4,897.2 L819.5,896.9 L823.5,896.6 L827.6,896.4 L831.7,896.1 L835.8,895.8 L839.9,895.5 L843.9,895.3 L848.0,895.0 L852.1,894.8 L856.2,894.6 L860.2,894.3 L864.3,894.1 L868.4,893.9 L872.5,893.6 L876.6,893.4 L880.6,893.2 L884.7,893.0 L888.8,892.8 L892.9,892.6 L897.0,892.4 L901.0,892.2 L905.1,892.0 L909.2,891.8 L913.3,891.6 L917.3,891.4 L921.4,891.2 L925.5,891.0 L929.6,890.8 L933.7,890.7 L937.7,890.5 L941.8,890.4 L945.9,890.2 L950.0,890.1 L954.1,890.0 L958.1,889.8 L962.2,889.7 L966.3,889.6 L970.4,889.5 L974.4,889.4 L978.5,889.3 L982.6,889.2 L986.7,889.1 L990.8,889.0 L994.8,888.9 L998.9,888.8 L1003.0,888.7 L1007.1,888.7 L1011.2,888.6 L1015.2,888.5 L1019.3,888.5 L1023.4,888.4 L1027.5,888.3 L1031.5,888.3 L1035.6,888.2 L1039.7,888.2 L1043.8,888.1 L1047.9,888.1 L1051.9,888.1 L1056.0,888.0 L1060.1,888.0 L1064.2,888.0 L1068.2,887.9 L1072.3,887.9 L1076.4,887.9 L1080.5,887.9 L1084.6,887.8 L1088.6,887.8 L1092.7,887.8 L1096.8,887.8 L1100.9,887.7 L1105.0,887.7 L1109.0,887.7 L1113.1,887.7 L1117.2,887.7 L1121.3,887.6 L1125.3,887.6 L1129.4,887.6 L1133.5,887.6 L1137.6,887.6 L1141.7,887.5 L1145.7,887.5 L1149.8,887.5 L1153.9,887.5 L1158.0,887.5 L1162.1,887.5 L1166.1,887.4 L1170.2,887.4 L1174.3,887.4 L1178.4,887.4 L1182.4,887.4 L1186.5,887.4 L1190.6,887.3 L1194.7,887.3 L1198.8,887.3 L1202.8,887.3 L1206.9,887.3 L1211.0,887.3 L1215.1,887.2 L1219.2,887.2 L1223.2,887.2 L1227.3,887.2 L1231.4,887.2 L1235.5,887.2 L1239.5,887.2 L1243.6,887.2 L1247.7,887.2 L1251.8,887.1 L1255.9,887.1 L1259.9,887.1 L1264.0,887.1 L1268.1,887.1 L1272.2,887.1 L1276.3,887.1 L1280.3,887.1 L1284.4,887.1 L1288.5,887.1 L1292.6,887.1 L1296.6,887.1 L1300.7,887.1 L1304.8,887.1 L1308.9,887.0 L1313.0,887.0 L1317.0,887.0 L1321.1,887.0 L1325.2,887.0 L1329.3,887.0 L1333.4,887.0 L1337.4,887.0 L1341.5,887.0 L1345.6,887.0 L1349.7,887.0 L1353.7,887.0 L1357.8,887.0 L1361.9,887.0 L1366.0,887.0 L1370.1,887.0 L1374.1,887.0 L1378.2,887.0 L1382.3,887.0 L1386.4,886.9 L1390.5,886.9 L1394.5,886.9 L1398.6,886.9 L1402.7,886.9 L1406.8,886.9 L1410.8,886.9 L1414.9,886.9 L1419.0,886.9 L1423.1,886.9 L1427.2,886.9 L1431.2,886.9 L1435.3,886.9 L1439.4,886.9 L1443.5,886.9 L1447.5,886.9 L1451.6,886.9 L1455.7,886.9 L1459.8,886.9 L1463.9,886.9 L1467.9,886.8 L1472.0,886.8 L1476.1,886.8 L1480.2,886.8 L1484.3,886.8 L1488.3,886.8 L1492.4,886.8 L1496.5,886.8 L1500.6,886.8 L1504.6,886.8 L1508.7,886.8 L1512.8,886.8 L1516.9,886.8 L1521.0,886.8 L1525.0,886.8 L1529.1,886.8 L1533.2,886.8 L1537.3,886.8 L1541.4,886.8 L1545.4,886.8 L1549.5,886.8 L1553.6,886.8 L1557.7,886.8 L1561.7,886.8 L1565.8,886.7 L1569.9,886.7 L1574.0,886.7 L1578.1,886.7 L1582.1,886.7 L1586.2,886.7 L1590.3,886.7 L1594.4,886.7 L1598.5,886.7 L1602.5,886.7 L1606.6,886.7 L1610.7,886.7 L1614.8,886.7 L1618.8,886.7 L1622.9,886.7 L1627.0,886.7 L1631.1,886.7 L1635.2,886.7 L1639.2,886.7 L1643.3,886.7 L1647.4,886.7 L1651.5,886.7 L1655.6,886.7 L1659.6,886.7 L1663.7,886.7 L1667.8,886.7 L1671.9,886.7 L1675.9,886.7 L1680.0,886.7 L1684.1,886.7 L1688.2,886.6 L1692.3,886.6 L1696.3,886.6 L1700.4,886.6 L1704.5,886.6 L1708.6,886.6 L1712.7,886.6 L1716.7,886.6 L1720.8,886.6 L1724.9,886.6 L1729.0,886.6 L1733.0,886.6 L1737.1,886.6 L1741.2,886.6 L1745.3,886.6 L1749.4,886.6 L1753.4,886.6 L1757.5,886.6 L1761.6,886.6 L1765.7,886.6 L1769.8,886.6 L1773.8,886.6 L1777.9,886.6 L1782.0,886.6 L1786.1,886.6 L1790.1,886.6 L1794.2,886.6 L1798.3,886.6 L1802.4,886.6 L1806.5,886.6 L1810.5,886.6 L1814.6,886.6 L1818.7,886.6 L1822.8,886.6 L1826.9,886.6 L1830.9,886.6 L1835.0,886.6 L1839.1,886.6 L1843.2,886.6 L1847.2,886.6 L1851.3,886.6 L1855.4,886.6 L1859.5,886.6 L1863.6,886.6 L1867.6,886.6 L1871.7,886.6 L1875.8,886.6 L1879.9,886.6 L1883.9,886.6 L1888.0,886.5 L1892.1,886.5 L1896.2,886.5 L1900.3,886.5 L1904.3,886.5 L1908.4,886.5 L1912.5,886.5 L1916.6,886.5 L1920.7,886.5 L1924.7,886.5 L1928.8,886.5 L1932.9,886.5 L1937.0,886.5 L1941.0,886.5 L1945.1,886.5 L1949.2,886.5 L1953.3,886.5 L1957.4,886.5 L1961.4,886.5 L1965.5,886.5 L1969.6,886.5 L1973.7,886.5 L1977.8,886.5 L1981.8,886.5 L1985.9,886.5 L1990.0,886.5 L1994.1,886.5 L1998.1,886.5 L2002.2,886.5 L2006.3,886.5 L2010.4,886.5 L2014.5,886.5 L2018.5,886.5" fill="none" stroke="#FF0000" stroke-width="4.5" stroke-linejoin="round"/>
<circle cx="224.0" cy="1631.5" r="14.3" fill="#FF0000"/>
<circle cx="305.6" cy="1171.3" r="14.3" fill="#FF0000"/>
<circle cx="387.1" cy="1060.2" r="14.3" fill="#FF0000"/>
<circle cx="468.7" cy="990.7" r="14.3" fill="#FF0000"/>
<circle cx="550.3" cy="950.8" r="14.3" fill="#FF0000"/>
<circle cx="631.8" cy="923.2" r="14.3" fill="#FF0000"/>
<circle cx="713.4" cy="910.0" r="14.3" fill="#FF0000"/>
<circle cx="795.0" cy="898.9" r="14.3" fill="#FF0000"/>
<circle cx="876.6" cy="893.4" r="14.3" fill="#FF0000"/>
<circle cx="958.1" cy="889.8" r="14.3" fill="#FF0000"/>
<circle cx="1039.7" cy="888.2" r="14.3" fill="#FF0000"/>
<circle cx="1121.3" cy="887.6" r="14.3" fill="#FF0000"/>
<circle cx="1202.8" cy="887.3" r="14.3" fill="#FF0000"/>
<circle cx="1284.4" cy="887.1" r="14.3" fill="#FF0000"/>
<circle cx="1366.0" cy="887.0" r="14.3" fill="#FF0000"/>
<circle cx="1447.5" cy="886.9" r="14.3" fill="#FF0000"/>
<circle cx="1529.1" cy="886.8" r="14.3" fill="#FF0000"/>
<circle cx="1610.7" cy="886.7" r="14.3" fill="#FF0000"/>
<circle cx="1692.3" cy="886.6" r="14.3" fill="#FF0000"/>
<circle cx="1773.8" cy="886.6" r="14.3" fill="#FF0000"/>
<circle cx="1855.4" cy="886.6" r="14.3" fill="#FF0000"/>
<circle cx="1937.0" cy="886.5" r="14.3" fill="#FF0000"/>
<circle cx="2018.5" cy="886.5" r="14.3" fill="#FF0000"/>
<path d="M224.0,1642.5 L224.4,1636.1 L224.8,1630.0 L225.2,1624.1 L225.6,1618.7 L226.0,1613.8 L226.4,1609.4 L226.9,1605.6 L227.3,1602.0 L227.7,1598.8 L228.1,1595.7 L228.5,1592.8 L228.9,1590.0 L229.3,1587.3 L229.7,1584.6 L230.1,1581.9 L230.5,1579.1 L230.9,1576.2 L231.3,1573.4 L231.7,1570.6 L232.2,1567.7 L232.6,1564.9 L233.0,1562.0 L233.4,1559.2 L233.8,1556.4 L234.2,1553.6 L234.6,1550.8 L235.0,1548.1 L235.4,1545.4 L235.8,1542.7 L236.2,1540.1 L236.6,1537.5 L237.1,1535.0 L237.5,1532.5 L237.9,1530.1 L238.3,1527.7 L238.7,1525.4 L239.1,1523.1 L239.5,1521.0 L239.9,1518.8 L240.3,1516.8 L241.9,1509.0 L243.6,1501.6 L245.2,1494.6 L246.8,1487.9 L248.5,1481.6 L250.1,1475.5 L251.7,1469.5 L253.4,1463.7 L255.0,1457.9 L256.6,1452.2 L258.3,1446.5 L259.9,1440.9 L261.5,1435.5 L263.2,1430.1 L264.8,1424.9 L266.4,1419.8 L268.0,1414.7 L269.7,1409.7 L271.3,1404.8 L272.9,1400.0 L274.6,1395.3 L276.2,1390.7 L277.8,1386.1 L279.5,1381.6 L281.1,1377.2 L282.7,1372.8 L284.4,1368.5 L286.0,1364.3 L287.6,1360.1 L289.3,1356.0 L290.9,1352.0 L292.5,1348.0 L294.2,1344.0 L295.8,1340.1 L297.4,1336.2 L299.0,1332.3 L300.7,1328.5 L302.3,1324.7 L303.9,1320.9 L305.6,1317.2 L307.2,1313.4 L308.8,1309.7 L310.5,1305.9 L312.1,1302.2 L313.7,1298.5 L315.4,1294.7 L317.0,1291.0 L318.6,1287.3 L320.3,1283.7 L321.9,1280.0 L323.5,1276.3 L325.1,1272.7 L326.8,1269.1 L328.4,1265.6 L330.0,1262.0 L331.7,1258.5 L333.3,1255.0 L334.9,1251.6 L336.6,1248.2 L338.2,1244.8 L339.8,1241.5 L341.5,1238.2 L343.1,1235.0 L344.7,1231.8 L346.4,1228.7 L348.0,1225.6 L349.6,1222.6 L351.2,1219.6 L352.9,1216.7 L354.5,1213.8 L356.1,1211.0 L357.8,1208.3 L359.4,1205.6 L361.0,1202.9 L362.7,1200.4 L364.3,1197.8 L365.9,1195.3 L367.6,1192.8 L369.2,1190.4 L370.8,1188.0 L372.5,1185.6 L374.1,1183.3 L375.7,1181.0 L377.4,1178.7 L379.0,1176.5 L380.6,1174.2 L382.2,1172.0 L383.9,1169.9 L385.5,1167.7 L387.1,1165.5 L391.2,1160.3 L395.3,1155.1 L399.4,1150.1 L403.5,1145.3 L407.5,1140.6 L411.6,1136.0 L415.7,1131.6 L419.8,1127.2 L423.8,1122.8 L427.9,1118.5 L432.0,1114.3 L436.1,1110.1 L440.2,1106.0 L444.2,1102.0 L448.3,1098.1 L452.4,1094.3 L456.5,1090.5 L460.6,1086.9 L464.6,1083.4 L468.7,1080.1 L472.8,1076.8 L476.9,1073.6 L480.9,1070.4 L485.0,1067.2 L489.1,1064.1 L493.2,1061.1 L497.3,1058.1 L501.3,1055.1 L505.4,1052.3 L509.5,1049.4 L513.6,1046.7 L517.7,1044.0 L521.7,1041.3 L525.8,1038.8 L529.9,1036.3 L534.0,1033.9 L538.0,1031.5 L542.1,1029.2 L546.2,1027.0 L550.3,1024.9 L554.4,1022.9 L558.4,1020.9 L562.5,1018.9 L566.6,1017.0 L570.7,1015.1 L574.8,1013.2 L578.8,1011.4 L582.9,1009.7 L587.0,1007.9 L591.1,1006.3 L595.1,1004.6 L599.2,1003.0 L603.3,1001.5 L607.4,1000.0 L611.5,998.5 L615.5,997.1 L619.6,995.7 L623.7,994.4 L627.8,993.1 L631.8,991.8 L635.9,990.6 L640.0,989.5 L644.1,988.3 L648.2,987.2 L652.2,986.1 L656.3,985.0 L660.4,984.0 L664.5,983.0 L668.6,982.0 L672.6,981.0 L676.7,980.1 L680.8,979.2 L684.9,978.3 L688.9,977.4 L693.0,976.5 L697.1,975.7 L701.2,974.9 L705.3,974.1 L709.3,973.3 L713.4,972.5 L717.5,971.8 L721.6,971.1 L725.7,970.3 L729.7,969.6 L733.8,969.0 L737.9,968.3 L742.0,967.6 L746.0,967.0 L750.1,966.3 L754.2,965.7 L758.3,965.1 L762.4,964.5 L766.4,963.9 L770.5,963.3 L774.6,962.8 L778.7,962.2 L782.8,961.7 L786.8,961.2 L790.9,960.6 L795.0,960.1 L799.1,959.6 L803.1,959.2 L807.2,958.7 L811.3,958.2 L815.4,957.7 L819.5,957.2 L823.5,956.7 L827.6,956.3 L831.7,955.8 L835.8,955.4 L839.9,955.0 L843.9,954.6 L848.0,954.2 L852.1,953.8 L856.2,953.4 L860.2,953.1 L864.3,952.7 L868.4,952.4 L872.5,952.1 L876.6,951.9 L880.6,951.6 L884.7,951.4 L888.8,951.1 L892.9,950.9 L897.0,950.7 L901.0,950.5 L905.1,950.3 L909.2,950.1 L913.3,949.9 L917.3,949.7 L921.4,949.5 L925.5,949.3 L929.6,949.1 L933.7,949.0 L937.7,948.9 L941.8,948.7 L945.9,948.6 L950.0,948.5 L954.1,948.4 L958.1,948.3 L962.2,948.2 L966.3,948.1 L970.4,948.1 L974.4,948.0 L978.5,947.9 L982.6,947.9 L986.7,947.8 L990.8,947.8 L994.8,947.7 L998.9,947.7 L1003.0,947.6 L1007.1,947.6 L1011.2,947.6 L1015.2,947.5 L1019.3,947.5 L1023.4,947.4 L1027.5,947.4 L1031.5,947.3 L1035.6,947.2 L1039.7,947.2 L1043.8,947.1 L1047.9,947.0 L1051.9,947.0 L1056.0,946.9 L1060.1,946.8 L1064.2,946.7 L1068.2,946.6 L1072.3,946.5 L1076.4,946.4 L1080.5,946.4 L1084.6,946.3 L1088.6,946.2 L1092.7,946.1 L1096.8,946.0 L1100.9,945.9 L1105.0,945.8 L1109.0,945.7 L1113.1,945.7 L1117.2,945.6 L1121.3,945.5 L1125.3,945.5 L1129.4,945.4 L1133.5,945.3 L1137.6,945.3 L1141.7,945.2 L1145.7,945.1 L1149.8,945.1 L1153.9,945.0 L1158.0,944.9 L1162.1,944.9 L1166.1,944.8 L1170.2,944.8 L1174.3,944.7 L1178.4,944.7 L1182.4,944.6 L1186.5,944.6 L1190.6,944.5 L1194.7,944.5 L1198.8,944.5 L1202.8,944.4 L1206.9,944.4 L1211.0,944.4 L1215.1,944.4 L1219.2,944.3 L1223.2,944.3 L1227.3,944.3 L1231.4,944.3 L1235.5,944.2 L1239.5,944.2 L1243.6,944.2 L1247.7,944.2 L1251.8,944.2 L1255.9,944.1 L1259.9,944.1 L1264.0,944.1 L1268.1,944.1 L1272.2,944.1 L1276.3,944.0 L1280.3,944.0 L1284.4,944.0 L1288.5,944.0 L1292.6,944.0 L1296.6,944.0 L1300.7,943.9 L1304.8,943.9 L1308.9,943.9 L1313.0,943.9 L1317.0,943.9 L1321.1,943.9 L1325.2,943.9 L1329.3,943.8 L1333.4,943.8 L1337.4,943.8 L1341.5,943.8 L1345.6,943.8 L1349.7,943.8 L1353.7,943.8 L1357.8,943.8 L1361.9,943.8 L1366.0,943.7 L1370.1,943.7 L1374.1,943.7 L1378.2,943.7 L1382.3,943.7 L1386.4,943.7 L1390.5,943.7 L1394.5,943.7 L1398.6,943.7 L1402.7,943.7 L1406.8,943.7 L1410.8,943.6 L1414.9,943.6 L1419.0,943.6 L1423.1,943.6 L1427.2,943.6 L1431.2,943.6 L1435.3,943.6 L1439.4,943.6 L1443.5,943.6 L1447.5,943.6 L1451.6,943.6 L1455.7,943.6 L1459.8,943.6 L1463.9,943.6 L1467.9,943.6 L1472.0,943.6 L1476.1,943.6 L1480.2,943.6 L1484.3,943.6 L1488.3,943.6 L1492.4,943.6 L1496.5,943.6 L1500.6,943.6 L1504.6,943.5 L1508.7,943.5 L1512.8,943.5 L1516.9,943.5 L1521.0,943.5 L1525.0,943.5 L1529.1,943.5 L1533.2,943.5 L1537.3,943.5 L1541.4,943.5 L1545.4,943.5 L1549.5,943.5 L1553.6,943.5 L1557.7,943.5 L1561.7,943.5 L1565.8,943.5 L1569.9,943.5 L1574.0,943.5 L1578.1,943.5 L1582.1,943.5 L1586.2,943.5 L1590.3,943.5 L1594.4,943.5 L1598.5,943.5 L1602.5,943.5 L1606.6,943.5 L1610.7,943.5 L1614.8,943.5 L1618.8,943.5 L1622.9,943.5 L1627.0,943.5 L1631.1,943.5 L1635.2,943.5 L1639.2,943.4 L1643.3,943.4 L1647.4,943.4 L1651.5,943.4 L1655.6,943.4 L1659.6,943.4 L1663.7,943.4 L1667.8,943.4 L1671.9,943.4 L1675.9,943.4 L1680.0,943.4 L1684.1,943.4 L1688.2,943.4 L1692.3,943.4 L1696.3,943.4 L1700.4,943.4 L1704.5,943.4 L1708.6,943.4 L1712.7,943.4 L1716.7,943.4 L1720.8,943.4 L1724.9,943.4 L1729.0,943.4 L1733.0,943.4 L1737.1,943.4 L1741.2,943.4 L1745.3,943.4 L1749.4,943.4 L1753.4,943.4 L1757.5,943.4 L1761.6,943.4 L1765.7,943.4 L1769.8,943.4 L1773.8,943.4 L1777.9,943.4 L1782.0,943.4 L1786.1,943.4 L1790.1,943.4 L1794.2,943.4 L1798.3,943.4 L1802.4,943.4 L1806.5,943.4 L1810.5,943.4 L1814.6,943.4 L1818.7,943.4 L1822.8,943.4 L1826.9,943.4 L1830.9,943.4 L1835.0,943.4 L1839.1,943.4 L1843.2,943.4 L1847.2,943.4 L1851.3,943.3 L1855.4,943.3 L1859.5,943.3 L1863.6,943.3 L1867.6,943.3 L1871.7,943.3 L1875.8,943.3 L1879.9,943.3 L1883.9,943.3 L1888.0,943.3 L1892.1,943.3 L1896.2,943.3 L1900.3,943.3 L1904.3,943.3 L1908.4,943.3 L1912.5,943.3 L1916.6,943.3 L1920.7,943.3 L1924.7,943.3 L1928.8,943.3 L1932.9,943.3 L1937.0,943.3 L1941.0,943.3 L1945.1,943.3 L1949.2,943.3 L1953.3,943.3 L1957.4,943.3 L1961.4,943.3 L1965.5,943.3 L1969.6,943.3 L1973.7,943.3 L1977.8,943.3 L1981.8,943.3 L1985.9,943.3 L1990.0,943.3 L1994.1,943.3 L1998.1,943.3 L2002.2,943.3 L2006.3,943.3 L2010.4,943.3 L2014.5,943.3 L2018.5,943.3" fill="none" stroke="#0000FF" stroke-width="4.5" stroke-linejoin="round"/>
<polygon points="224.0,1626.5 241.5,1654.5 206.5,1654.5" fill="#0000FF"/>
<polygon points="305.6,1301.2 323.1,1329.2 288.1,1329.2" fill="#0000FF"/>
<polygon points="387.1,1149.5 404.6,1177.5 369.6,1177.5" fill="#0000FF"/>
<polygon points="468.7,1064.1 486.2,1092.1 451.2,1092.1" fill="#0000FF"/>
<polygon points="550.3,1008.9 567.8,1036.9 532.8,1036.9" fill="#0000FF"/>
<polygon points="631.8,975.8 649.3,1003.8 614.3,1003.8" fill="#0000FF"/>
<polygon points="713.4,956.5 730.9,984.5 695.9,984.5" fill="#0000FF"/>
<polygon points="795.0,944.1 812.5,972.1 777.5,972.1" fill="#0000FF"/>
<polygon points="876.6,935.9 894.1,963.9 859.1,963.9" fill="#0000FF"/>
<polygon points="958.1,932.3 975.6,960.3 940.6,960.3" fill="#0000FF"/>
<polygon points="1039.7,931.2 1057.2,959.2 1022.2,959.2" fill="#0000FF"/>
<polygon points="1121.3,929.5 1138.8,957.5 1103.8,957.5" fill="#0000FF"/>
<polygon points="1202.8,928.4 1220.3,956.4 1185.3,956.4" fill="#0000FF"/>
<polygon points="1284.4,928.0 1301.9,956.0 1266.9,956.0" fill="#0000FF"/>
<polygon points="1366.0,927.7 1383.5,955.7 1348.5,955.7" fill="#0000FF"/>
<polygon points="1447.5,927.6 1465.0,955.6 1430.0,955.6" fill="#0000FF"/>
<polygon points="1529.1,927.5 1546.6,955.5 1511.6,955.5" fill="#0000FF"/>
<polygon points="1610.7,927.5 1628.2,955.5 1593.2,955.5" fill="#0000FF"/>
<polygon points="1692.3,927.4 1709.8,955.4 1674.8,955.4" fill="#0000FF"/>
<polygon points="1773.8,927.4 1791.3,955.4 1756.3,955.4" fill="#0000FF"/>
<polygon points="1855.4,927.3 1872.9,955.3 1837.9,955.3" fill="#0000FF"/>
<polygon points="1937.0,927.3 1954.5,955.3 1919.5,955.3" fill="#0000FF"/>
<polygon points="2018.5,927.3 2036.0,955.3 2001.0,955.3" fill="#0000FF"/>
<path d="M224.0,1642.5 L224.4,1632.0 L224.8,1621.8 L225.2,1612.0 L225.6,1603.0 L226.0,1594.7 L226.4,1587.4 L226.9,1580.7 L227.3,1574.5 L227.7,1568.6 L228.1,1563.0 L228.5,1557.8 L228.9,1552.8 L229.3,1548.0 L229.7,1543.5 L230.1,1539.2 L230.5,1535.0 L230.9,1530.9 L231.3,1526.9 L231.7,1523.0 L232.2,1519.2 L232.6,1515.5 L233.0,1511.8 L233.4,1508.3 L233.8,1504.8 L234.2,1501.3 L234.6,1498.0 L235.0,1494.7 L235.4,1491.5 L235.8,1488.4 L236.2,1485.3 L236.6,1482.3 L237.1,1479.4 L237.5,1476.5 L237.9,1473.7 L238.3,1470.9 L238.7,1468.2 L239.1,1465.5 L239.5,1462.9 L239.9,1460.3 L240.3,1457.8 L241.9,1447.9 L243.6,1438.5 L245.2,1429.6 L246.8,1421.2 L248.5,1413.4 L250.1,1406.3 L251.7,1400.0 L253.4,1394.4 L255.0,1389.2 L256.6,1384.3 L258.3,1379.7 L259.9,1375.3 L261.5,1371.1 L263.2,1367.1 L264.8,1363.3 L266.4,1359.6 L268.0,1356.1 L269.7,1352.6 L271.3,1349.3 L272.9,1346.1 L274.6,1342.8 L276.2,1339.7 L277.8,1336.5 L279.5,1333.3 L281.1,1330.3 L282.7,1327.3 L284.4,1324.4 L286.0,1321.6 L287.6,1318.8 L289.3,1316.1 L290.9,1313.4 L292.5,1310.8 L294.2,1308.2 L295.8,1305.7 L297.4,1303.2 L299.0,1300.7 L300.7,1298.3 L302.3,1295.8 L303.9,1293.4 L305.6,1291.0 L307.2,1288.6 L308.8,1286.1 L310.5,1283.7 L312.1,1281.3 L313.7,1278.8 L315.4,1276.4 L317.0,1274.0 L318.6,1271.6 L320.3,1269.1 L321.9,1266.7 L323.5,1264.3 L325.1,1261.9 L326.8,1259.5 L328.4,1257.1 L330.0,1254.8 L331.7,1252.4 L333.3,1250.0 L334.9,1247.7 L336.6,1245.4 L338.2,1243.1 L339.8,1240.8 L341.5,1238.5 L343.1,1236.2 L344.7,1233.9 L346.4,1231.7 L348.0,1229.5 L349.6,1227.3 L351.2,1225.1 L352.9,1222.9 L354.5,1220.8 L356.1,1218.6 L357.8,1216.5 L359.4,1214.5 L361.0,1212.4 L362.7,1210.4 L364.3,1208.4 L365.9,1206.4 L367.6,1204.4 L369.2,1202.5 L370.8,1200.6 L372.5,1198.8 L374.1,1196.9 L375.7,1195.1 L377.4,1193.4 L379.0,1191.6 L380.6,1189.9 L382.2,1188.3 L383.9,1186.6 L385.5,1185.0 L387.1,1183.5 L391.2,1179.7 L395.3,1176.0 L399.4,1172.4 L403.5,1168.9 L407.5,1165.5 L411.6,1162.2 L415.7,1158.9 L419.8,1155.8 L423.8,1152.8 L427.9,1149.8 L432.0,1146.9 L436.1,1144.0 L440.2,1141.3 L444.2,1138.5 L448.3,1135.9 L452.4,1133.3 L456.5,1130.7 L460.6,1128.2 L464.6,1125.8 L468.7,1123.4 L472.8,1121.0 L476.9,1118.7 L480.9,1116.4 L485.0,1114.1 L489.1,1111.9 L493.2,1109.8 L497.3,1107.7 L501.3,1105.6 L505.4,1103.6 L509.5,1101.6 L513.6,1099.6 L517.7,1097.7 L521.7,1095.8 L525.8,1093.9 L529.9,1092.1 L534.0,1090.3 L538.0,1088.5 L542.1,1086.8 L546.2,1085.1 L550.3,1083.4 L554.4,1081.7 L558.4,1080.0 L562.5,1078.4 L566.6,1076.7 L570.7,1075.1 L574.8,1073.5 L578.8,1071.9 L582.9,1070.3 L587.0,1068.8 L591.1,1067.3 L595.1,1065.8 L599.2,1064.3 L603.3,1062.9 L607.4,1061.6 L611.5,1060.2 L615.5,1059.0 L619.6,1057.8 L623.7,1056.6 L627.8,1055.5 L631.8,1054.4 L635.9,1053.4 L640.0,1052.4 L644.1,1051.5 L648.2,1050.6 L652.2,1049.6 L656.3,1048.8 L660.4,1047.9 L664.5,1047.1 L668.6,1046.2 L672.6,1045.4 L676.7,1044.7 L680.8,1043.9 L684.9,1043.2 L688.9,1042.5 L693.0,1041.8 L697.1,1041.1 L701.2,1040.5 L705.3,1039.9 L709.3,1039.3 L713.4,1038.7 L717.5,1038.2 L721.6,1037.6 L725.7,1037.0 L729.7,1036.5 L733.8,1035.9 L737.9,1035.4 L742.0,1034.9 L746.0,1034.4 L750.1,1033.9 L754.2,1033.4 L758.3,1033.0 L762.4,1032.5 L766.4,1032.1 L770.5,1031.7 L774.6,1031.3 L778.7,1031.0 L782.8,1030.7 L786.8,1030.4 L790.9,1030.1 L795.0,1029.9 L799.1,1029.7 L803.1,1029.5 L807.2,1029.3 L811.3,1029.1 L815.4,1029.0 L819.5,1028.8 L823.5,1028.7 L827.6,1028.6 L831.7,1028.4 L835.8,1028.3 L839.9,1028.2 L843.9,1028.1 L848.0,1027.9 L852.1,1027.8 L856.2,1027.7 L860.2,1027.6 L864.3,1027.5 L868.4,1027.4 L872.5,1027.3 L876.6,1027.1 L880.6,1027.0 L884.7,1026.9 L888.8,1026.8 L892.9,1026.7 L897.0,1026.6 L901.0,1026.4 L905.1,1026.3 L909.2,1026.2 L913.3,1026.1 L917.3,1026.0 L921.4,1025.9 L925.5,1025.8 L929.6,1025.7 L933.7,1025.6 L937.7,1025.5 L941.8,1025.4 L945.9,1025.3 L950.0,1025.2 L954.1,1025.0 L958.1,1024.9 L962.2,1024.8 L966.3,1024.7 L970.4,1024.6 L974.4,1024.5 L978.5,1024.4 L982.6,1024.3 L986.7,1024.2 L990.8,1024.1 L994.8,1024.0 L998.9,1023.9 L1003.0,1023.8 L1007.1,1023.7 L1011.2,1023.6 L1015.2,1023.5 L1019.3,1023.3 L1023.4,1023.2 L1027.5,1023.1 L1031.5,1023.0 L1035.6,1022.9 L1039.7,1022.7 L1043.8,1022.6 L1047.9,1022.4 L1051.9,1022.3 L1056.0,1022.1 L1060.1,1021.9 L1064.2,1021.8 L1068.2,1021.6 L1072.3,1021.4 L1076.4,1021.2 L1080.5,1021.0 L1084.6,1020.8 L1088.6,1020.6 L1092.7,1020.4 L1096.8,1020.3 L1100.9,1020.1 L1105.0,1019.9 L1109.0,1019.8 L1113.1,1019.7 L1117.2,1019.5 L1121.3,1019.4 L1125.3,1019.3 L1129.4,1019.2 L1133.5,1019.1 L1137.6,1019.0 L1141.7,1018.9 L1145.7,1018.8 L1149.8,1018.7 L1153.9,1018.6 L1158.0,1018.5 L1162.1,1018.4 L1166.1,1018.4 L1170.2,1018.3 L1174.3,1018.2 L1178.4,1018.1 L1182.4,1018.0 L1186.5,1017.9 L1190.6,1017.8 L1194.7,1017.8 L1198.8,1017.7 L1202.8,1017.6 L1206.9,1017.5 L1211.0,1017.5 L1215.1,1017.4 L1219.2,1017.3 L1223.2,1017.3 L1227.3,1017.2 L1231.4,1017.2 L1235.5,1017.1 L1239.5,1017.0 L1243.6,1017.0 L1247.7,1016.9 L1251.8,1016.9 L1255.9,1016.9 L1259.9,1016.8 L1264.0,1016.8 L1268.1,1016.8 L1272.2,1016.7 L1276.3,1016.7 L1280.3,1016.7 L1284.4,1016.7 L1288.5,1016.6 L1292.6,1016.6 L1296.6,1016.6 L1300.7,1016.6 L1304.8,1016.6 L1308.9,1016.6 L1313.0,1016.5 L1317.0,1016.5 L1321.1,1016.5 L1325.2,1016.5 L1329.3,1016.5 L1333.4,1016.5 L1337.4,1016.5 L1341.5,1016.4 L1345.6,1016.4 L1349.7,1016.4 L1353.7,1016.4 L1357.8,1016.4 L1361.9,1016.4 L1366.0,1016.4 L1370.1,1016.3 L1374.1,1016.3 L1378.2,1016.3 L1382.3,1016.3 L1386.4,1016.3 L1390.5,1016.3 L1394.5,1016.3 L1398.6,1016.2 L1402.7,1016.2 L1406.8,1016.2 L1410.8,1016.2 L1414.9,1016.2 L1419.0,1016.2 L1423.1,1016.2 L1427.2,1016.1 L1431.2,1016.1 L1435.3,1016.1 L1439.4,1016.1 L1443.5,1016.1 L1447.5,1016.1 L1451.6,1016.1 L1455.7,1016.1 L1459.8,1016.0 L1463.9,1016.0 L1467.9,1016.0 L1472.0,1016.0 L1476.1,1016.0 L1480.2,1016.0 L1484.3,1016.0 L1488.3,1016.0 L1492.4,1016.0 L1496.5,1015.9 L1500.6,1015.9 L1504.6,1015.9 L1508.7,1015.9 L1512.8,1015.9 L1516.9,1015.9 L1521.0,1015.9 L1525.0,1015.9 L1529.1,1015.9 L1533.2,1015.9 L1537.3,1015.8 L1541.4,1015.8 L1545.4,1015.8 L1549.5,1015.8 L1553.6,1015.8 L1557.7,1015.8 L1561.7,1015.8 L1565.8,1015.8 L1569.9,1015.8 L1574.0,1015.8 L1578.1,1015.7 L1582.1,1015.7 L1586.2,1015.7 L1590.3,1015.7 L1594.4,1015.7 L1598.5,1015.7 L1602.5,1015.7 L1606.6,1015.7 L1610.7,1015.7 L1614.8,1015.7 L1618.8,1015.7 L1622.9,1015.7 L1627.0,1015.6 L1631.1,1015.6 L1635.2,1015.6 L1639.2,1015.6 L1643.3,1015.6 L1647.4,1015.6 L1651.5,1015.6 L1655.6,1015.6 L1659.6,1015.6 L1663.7,1015.6 L1667.8,1015.6 L1671.9,1015.6 L1675.9,1015.6 L1680.0,1015.5 L1684.1,1015.5 L1688.2,1015.5 L1692.3,1015.5 L1696.3,1015.5 L1700.4,1015.5 L1704.5,1015.5 L1708.6,1015.5 L1712.7,1015.5 L1716.7,1015.5 L1720.8,1015.5 L1724.9,1015.5 L1729.0,1015.5 L1733.0,1015.5 L1737.1,1015.5 L1741.2,1015.5 L1745.3,1015.5 L1749.4,1015.4 L1753.4,1015.4 L1757.5,1015.4 L1761.6,1015.4 L1765.7,1015.4 L1769.8,1015.4 L1773.8,1015.4 L1777.9,1015.4 L1782.0,1015.4 L1786.1,1015.4 L1790.1,1015.4 L1794.2,1015.4 L1798.3,1015.4 L1802.4,1015.4 L1806.5,1015.4 L1810.5,1015.4 L1814.6,1015.4 L1818.7,1015.4 L1822.8,1015.4 L1826.9,1015.4 L1830.9,1015.4 L1835.0,1015.4 L1839.1,1015.4 L1843.2,1015.4 L1847.2,1015.3 L1851.3,1015.3 L1855.4,1015.3 L1859.5,1015.3 L1863.6,1015.3 L1867.6,1015.3 L1871.7,1015.3 L1875.8,1015.3 L1879.9,1015.3 L1883.9,1015.3 L1888.0,1015.3 L1892.1,1015.3 L1896.2,1015.3 L1900.3,1015.3 L1904.3,1015.3 L1908.4,1015.3 L1912.5,1015.3 L1916.6,1015.3 L1920.7,1015.3 L1924.7,1015.3 L1928.8,1015.3 L1932.9,1015.3 L1937.0,1015.3 L1941.0,1015.3 L1945.1,1015.3 L1949.2,1015.3 L1953.3,1015.3 L1957.4,1015.3 L1961.4,1015.3 L1965.5,1015.3 L1969.6,1015.3 L1973.7,1015.3 L1977.8,1015.3 L1981.8,1015.3 L1985.9,1015.3 L1990.0,1015.3 L1994.1,1015.3 L1998.1,1015.3 L2002.2,1015.3 L2006.3,1015.3 L2010.4,1015.3 L2014.5,1015.3 L2018.5,1015.3" fill="none" stroke="#FF00FF" stroke-width="4.5" stroke-linejoin="round"/>
<polygon points="208.0,1610.4 240.0,1610.4 224.0,1640.4" fill="#FF00FF"/>
<polygon points="289.6,1281.0 321.6,1281.0 305.6,1311.0" fill="#FF00FF"/>
<polygon points="371.1,1173.5 403.1,1173.5 387.1,1203.5" fill="#FF00FF"/>
<polygon points="452.7,1113.4 484.7,1113.4 468.7,1143.4" fill="#FF00FF"/>
<polygon points="534.3,1073.4 566.3,1073.4 550.3,1103.4" fill="#FF00FF"/>
<polygon points="615.8,1044.4 647.8,1044.4 631.8,1074.4" fill="#FF00FF"/>
<polygon points="697.4,1028.7 729.4,1028.7 713.4,1058.7" fill="#FF00FF"/>
<polygon points="779.0,1019.9 811.0,1019.9 795.0,1049.9" fill="#FF00FF"/>
<polygon points="860.6,1017.1 892.6,1017.1 876.6,1047.1" fill="#FF00FF"/>
<polygon points="942.1,1014.9 974.1,1014.9 958.1,1044.9" fill="#FF00FF"/>
<polygon points="1023.7,1012.7 1055.7,1012.7 1039.7,1042.7" fill="#FF00FF"/>
<polygon points="1105.3,1009.4 1137.3,1009.4 1121.3,1039.4" fill="#FF00FF"/>
<polygon points="1186.8,1007.6 1218.8,1007.6 1202.8,1037.6" fill="#FF00FF"/>
<polygon points="1268.4,1006.7 1300.4,1006.7 1284.4,1036.7" fill="#FF00FF"/>
<polygon points="1350.0,1006.4 1382.0,1006.4 1366.0,1036.4" fill="#FF00FF"/>
<polygon points="1431.5,1006.1 1463.5,1006.1 1447.5,1036.1" fill="#FF00FF"/>
<polygon points="1513.1,1005.9 1545.1,1005.9 1529.1,1035.9" fill="#FF00FF"/>
<polygon points="1594.7,1005.7 1626.7,1005.7 1610.7,1035.7" fill="#FF00FF"/>
<polygon points="1676.3,1005.5 1708.3,1005.5 1692.3,1035.5" fill="#FF00FF"/>
<polygon points="1757.8,1005.4 1789.8,1005.4 1773.8,1035.4" fill="#FF00FF"/>
<polygon points="1839.4,1005.3 1871.4,1005.3 1855.4,1035.3" fill="#FF00FF"/>
<polygon points="1921.0,1005.3 1953.0,1005.3 1937.0,1035.3" fill="#FF00FF"/>
<polygon points="2002.5,1005.3 2034.5,1005.3 2018.5,1035.3" fill="#FF00FF"/>
<path d="M224.0,1642.5 L224.4,1630.1 L224.8,1618.1 L225.2,1606.8 L225.6,1596.3 L226.0,1587.0 L226.4,1579.1 L226.9,1572.2 L227.3,1565.7 L227.7,1559.8 L228.1,1554.2 L228.5,1549.0 L228.9,1544.2 L229.3,1539.5 L229.7,1535.1 L230.1,1530.9 L230.5,1526.7 L230.9,1522.6 L231.3,1518.6 L231.7,1514.7 L232.2,1510.9 L232.6,1507.2 L233.0,1503.6 L233.4,1500.0 L233.8,1496.5 L234.2,1493.1 L234.6,1489.7 L235.0,1486.5 L235.4,1483.3 L235.8,1480.1 L236.2,1477.1 L236.6,1474.0 L237.1,1471.1 L237.5,1468.2 L237.9,1465.4 L238.3,1462.6 L238.7,1459.9 L239.1,1457.2 L239.5,1454.6 L239.9,1452.0 L240.3,1449.5 L241.9,1439.7 L243.6,1430.2 L245.2,1421.3 L246.8,1412.9 L248.5,1405.1 L250.1,1398.0 L251.7,1391.7 L253.4,1386.1 L255.0,1381.0 L256.6,1376.0 L258.3,1371.4 L259.9,1367.0 L261.5,1362.8 L263.2,1358.8 L264.8,1355.0 L266.4,1351.3 L268.0,1347.8 L269.7,1344.4 L271.3,1341.0 L272.9,1337.8 L274.6,1334.6 L276.2,1331.4 L277.8,1328.2 L279.5,1325.1 L281.1,1322.0 L282.7,1319.0 L284.4,1316.1 L286.0,1313.3 L287.6,1310.5 L289.3,1307.8 L290.9,1305.1 L292.5,1302.5 L294.2,1299.9 L295.8,1297.4 L297.4,1294.9 L299.0,1292.4 L300.7,1290.0 L302.3,1287.5 L303.9,1285.1 L305.6,1282.7 L307.2,1280.3 L308.8,1277.9 L310.5,1275.5 L312.1,1273.1 L313.7,1270.8 L315.4,1268.4 L317.0,1266.0 L318.6,1263.7 L320.3,1261.3 L321.9,1258.9 L323.5,1256.6 L325.1,1254.3 L326.8,1252.0 L328.4,1249.6 L330.0,1247.3 L331.7,1245.0 L333.3,1242.8 L334.9,1240.5 L336.6,1238.2 L338.2,1236.0 L339.8,1233.8 L341.5,1231.6 L343.1,1229.4 L344.7,1227.2 L346.4,1225.0 L348.0,1222.9 L349.6,1220.7 L351.2,1218.6 L352.9,1216.5 L354.5,1214.5 L356.1,1212.4 L357.8,1210.4 L359.4,1208.4 L361.0,1206.4 L362.7,1204.4 L364.3,1202.5 L365.9,1200.5 L367.6,1198.6 L369.2,1196.8 L370.8,1194.9 L372.5,1193.1 L374.1,1191.3 L375.7,1189.5 L377.4,1187.8 L379.0,1186.1 L380.6,1184.4 L382.2,1182.7 L383.9,1181.1 L385.5,1179.5 L387.1,1177.9 L391.2,1174.1 L395.3,1170.4 L399.4,1166.8 L403.5,1163.2 L407.5,1159.8 L411.6,1156.4 L415.7,1153.1 L419.8,1149.9 L423.8,1146.8 L427.9,1143.7 L432.0,1140.8 L436.1,1137.8 L440.2,1135.0 L444.2,1132.2 L448.3,1129.4 L452.4,1126.8 L456.5,1124.1 L460.6,1121.5 L464.6,1119.0 L468.7,1116.5 L472.8,1114.0 L476.9,1111.5 L480.9,1109.1 L485.0,1106.8 L489.1,1104.4 L493.2,1102.1 L497.3,1099.9 L501.3,1097.7 L505.4,1095.5 L509.5,1093.4 L513.6,1091.3 L517.7,1089.2 L521.7,1087.2 L525.8,1085.3 L529.9,1083.4 L534.0,1081.5 L538.0,1079.7 L542.1,1077.9 L546.2,1076.2 L550.3,1074.6 L554.4,1072.9 L558.4,1071.4 L562.5,1069.8 L566.6,1068.3 L570.7,1066.8 L574.8,1065.3 L578.8,1063.9 L582.9,1062.5 L587.0,1061.1 L591.1,1059.8 L595.1,1058.5 L599.2,1057.2 L603.3,1055.9 L607.4,1054.7 L611.5,1053.5 L615.5,1052.3 L619.6,1051.1 L623.7,1050.0 L627.8,1048.9 L631.8,1047.8 L635.9,1046.7 L640.0,1045.7 L644.1,1044.6 L648.2,1043.6 L652.2,1042.6 L656.3,1041.5 L660.4,1040.5 L664.5,1039.6 L668.6,1038.6 L672.6,1037.7 L676.7,1036.7 L680.8,1035.8 L684.9,1035.0 L688.9,1034.2 L693.0,1033.4 L697.1,1032.6 L701.2,1031.9 L705.3,1031.2 L709.3,1030.5 L713.4,1029.9 L717.5,1029.3 L721.6,1028.7 L725.7,1028.2 L729.7,1027.7 L733.8,1027.1 L737.9,1026.6 L742.0,1026.1 L746.0,1025.7 L750.1,1025.2 L754.2,1024.7 L758.3,1024.3 L762.4,1023.9 L766.4,1023.5 L770.5,1023.1 L774.6,1022.7 L778.7,1022.4 L782.8,1022.0 L786.8,1021.7 L790.9,1021.4 L795.0,1021.1 L799.1,1020.8 L803.1,1020.5 L807.2,1020.2 L811.3,1020.0 L815.4,1019.7 L819.5,1019.5 L823.5,1019.3 L827.6,1019.1 L831.7,1018.8 L835.8,1018.6 L839.9,1018.4 L843.9,1018.2 L848.0,1018.0 L852.1,1017.8 L856.2,1017.6 L860.2,1017.4 L864.3,1017.2 L868.4,1017.1 L872.5,1016.9 L876.6,1016.7 L880.6,1016.5 L884.7,1016.3 L888.8,1016.1 L892.9,1015.9 L897.0,1015.7 L901.0,1015.5 L905.1,1015.3 L909.2,1015.1 L913.3,1014.9 L917.3,1014.8 L921.4,1014.6 L925.5,1014.4 L929.6,1014.2 L933.7,1014.1 L937.7,1013.9 L941.8,1013.7 L945.9,1013.6 L950.0,1013.4 L954.1,1013.2 L958.1,1013.1 L962.2,1012.9 L966.3,1012.8 L970.4,1012.6 L974.4,1012.5 L978.5,1012.3 L982.6,1012.2 L986.7,1012.0 L990.8,1011.9 L994.8,1011.8 L998.9,1011.6 L1003.0,1011.5 L1007.1,1011.4 L1011.2,1011.2 L1015.2,1011.1 L1019.3,1011.0 L1023.4,1010.8 L1027.5,1010.7 L1031.5,1010.6 L1035.6,1010.5 L1039.7,1010.3 L1043.8,1010.2 L1047.9,1010.1 L1051.9,1009.9 L1056.0,1009.8 L1060.1,1009.6 L1064.2,1009.5 L1068.2,1009.4 L1072.3,1009.2 L1076.4,1009.1 L1080.5,1009.0 L1084.6,1008.8 L1088.6,1008.7 L1092.7,1008.6 L1096.8,1008.5 L1100.9,1008.4 L1105.0,1008.2 L1109.0,1008.1 L1113.1,1008.0 L1117.2,1007.9 L1121.3,1007.8 L1125.3,1007.7 L1129.4,1007.7 L1133.5,1007.6 L1137.6,1007.5 L1141.7,1007.4 L1145.7,1007.3 L1149.8,1007.2 L1153.9,1007.1 L1158.0,1007.0 L1162.1,1007.0 L1166.1,1006.9 L1170.2,1006.8 L1174.3,1006.7 L1178.4,1006.7 L1182.4,1006.6 L1186.5,1006.6 L1190.6,1006.5 L1194.7,1006.5 L1198.8,1006.5 L1202.8,1006.5 L1206.9,1006.4 L1211.0,1006.4 L1215.1,1006.4 L1219.2,1006.4 L1223.2,1006.4 L1227.3,1006.4 L1231.4,1006.4 L1235.5,1006.4 L1239.5,1006.4 L1243.6,1006.4 L1247.7,1006.4 L1251.8,1006.3 L1255.9,1006.3 L1259.9,1006.3 L1264.0,1006.3 L1268.1,1006.3 L1272.2,1006.3 L1276.3,1006.3 L1280.3,1006.3 L1284.4,1006.3 L1288.5,1006.3 L1292.6,1006.3 L1296.6,1006.2 L1300.7,1006.2 L1304.8,1006.2 L1308.9,1006.2 L1313.0,1006.2 L1317.0,1006.2 L1321.1,1006.2 L1325.2,1006.2 L1329.3,1006.2 L1333.4,1006.2 L1337.4,1006.2 L1341.5,1006.2 L1345.6,1006.1 L1349.7,1006.1 L1353.7,1006.1 L1357.8,1006.1 L1361.9,1006.1 L1366.0,1006.1 L1370.1,1006.1 L1374.1,1006.1 L1378.2,1006.1 L1382.3,1006.1 L1386.4,1006.1 L1390.5,1006.1 L1394.5,1006.1 L1398.6,1006.1 L1402.7,1006.0 L1406.8,1006.0 L1410.8,1006.0 L1414.9,1006.0 L1419.0,1006.0 L1423.1,1006.0 L1427.2,1006.0 L1431.2,1006.0 L1435.3,1006.0 L1439.4,1006.0 L1443.5,1006.0 L1447.5,1006.0 L1451.6,1006.0 L1455.7,1006.0 L1459.8,1006.0 L1463.9,1006.0 L1467.9,1005.9 L1472.0,1005.9 L1476.1,1005.9 L1480.2,1005.9 L1484.3,1005.9 L1488.3,1005.9 L1492.4,1005.9 L1496.5,1005.9 L1500.6,1005.9 L1504.6,1005.9 L1508.7,1005.9 L1512.8,1005.9 L1516.9,1005.9 L1521.0,1005.9 L1525.0,1005.9 L1529.1,1005.9 L1533.2,1005.9 L1537.3,1005.9 L1541.4,1005.9 L1545.4,1005.9 L1549.5,1005.8 L1553.6,1005.8 L1557.7,1005.8 L1561.7,1005.8 L1565.8,1005.8 L1569.9,1005.8 L1574.0,1005.8 L1578.1,1005.8 L1582.1,1005.8 L1586.2,1005.8 L1590.3,1005.8 L1594.4,1005.8 L1598.5,1005.8 L1602.5,1005.8 L1606.6,1005.8 L1610.7,1005.8 L1614.8,1005.8 L1618.8,1005.8 L1622.9,1005.8 L1627.0,1005.8 L1631.1,1005.8 L1635.2,1005.8 L1639.2,1005.8 L1643.3,1005.8 L1647.4,1005.8 L1651.5,1005.8 L1655.6,1005.8 L1659.6,1005.7 L1663.7,1005.7 L1667.8,1005.7 L1671.9,1005.7 L1675.9,1005.7 L1680.0,1005.7 L1684.1,1005.7 L1688.2,1005.7 L1692.3,1005.7 L1696.3,1005.7 L1700.4,1005.7 L1704.5,1005.7 L1708.6,1005.7 L1712.7,1005.7 L1716.7,1005.7 L1720.8,1005.7 L1724.9,1005.7 L1729.0,1005.7 L1733.0,1005.7 L1737.1,1005.7 L1741.2,1005.7 L1745.3,1005.7 L1749.4,1005.7 L1753.4,1005.7 L1757.5,1005.7 L1761.6,1005.7 L1765.7,1005.7 L1769.8,1005.7 L1773.8,1005.7 L1777.9,1005.7 L1782.0,1005.7 L1786.1,1005.7 L1790.1,1005.7 L1794.2,1005.7 L1798.3,1005.7 L1802.4,1005.7 L1806.5,1005.7 L1810.5,1005.7 L1814.6,1005.7 L1818.7,1005.7 L1822.8,1005.7 L1826.9,1005.7 L1830.9,1005.7 L1835.0,1005.7 L1839.1,1005.7 L1843.2,1005.7 L1847.2,1005.7 L1851.3,1005.7 L1855.4,1005.7 L1859.5,1005.7 L1863.6,1005.7 L1867.6,1005.7 L1871.7,1005.6 L1875.8,1005.6 L1879.9,1005.6 L1883.9,1005.6 L1888.0,1005.6 L1892.1,1005.6 L1896.2,1005.6 L1900.3,1005.6 L1904.3,1005.6 L1908.4,1005.6 L1912.5,1005.6 L1916.6,1005.6 L1920.7,1005.6 L1924.7,1005.6 L1928.8,1005.6 L1932.9,1005.6 L1937.0,1005.6 L1941.0,1005.6 L1945.1,1005.6 L1949.2,1005.6 L1953.3,1005.6 L1957.4,1005.6 L1961.4,1005.6 L1965.5,1005.6 L1969.6,1005.6 L1973.7,1005.6 L1977.8,1005.6 L1981.8,1005.6 L1985.9,1005.6 L1990.0,1005.6 L1994.1,1005.6 L1998.1,1005.6 L2002.2,1005.6 L2006.3,1005.6 L2010.4,1005.6 L2014.5,1005.6 L2018.5,1005.6" fill="none" stroke="#008000" stroke-width="4.5" stroke-linejoin="round"/>
<polygon points="224.0,1626.0 240.0,1642.5 224.0,1659.0 208.0,1642.5" fill="#008000"/>
<polygon points="305.6,1266.2 321.6,1282.7 305.6,1299.2 289.6,1282.7" fill="#008000"/>
<polygon points="387.1,1161.4 403.1,1177.9 387.1,1194.4 371.1,1177.9" fill="#008000"/>
<polygon points="468.7,1100.0 484.7,1116.5 468.7,1133.0 452.7,1116.5" fill="#008000"/>
<polygon points="550.3,1058.1 566.3,1074.6 550.3,1091.1 534.3,1074.6" fill="#008000"/>
<polygon points="631.8,1031.3 647.8,1047.8 631.8,1064.3 615.8,1047.8" fill="#008000"/>
<polygon points="713.4,1013.4 729.4,1029.9 713.4,1046.4 697.4,1029.9" fill="#008000"/>
<polygon points="795.0,1004.6 811.0,1021.1 795.0,1037.6 779.0,1021.1" fill="#008000"/>
<polygon points="876.6,1000.2 892.6,1016.7 876.6,1033.2 860.6,1016.7" fill="#008000"/>
<polygon points="958.1,996.6 974.1,1013.1 958.1,1029.6 942.1,1013.1" fill="#008000"/>
<polygon points="1039.7,993.8 1055.7,1010.3 1039.7,1026.8 1023.7,1010.3" fill="#008000"/>
<polygon points="1121.3,991.3 1137.3,1007.8 1121.3,1024.3 1105.3,1007.8" fill="#008000"/>
<polygon points="1202.8,990.0 1218.8,1006.5 1202.8,1023.0 1186.8,1006.5" fill="#008000"/>
<polygon points="1284.4,989.8 1300.4,1006.3 1284.4,1022.8 1268.4,1006.3" fill="#008000"/>
<polygon points="1366.0,989.6 1382.0,1006.1 1366.0,1022.6 1350.0,1006.1" fill="#008000"/>
<polygon points="1447.5,989.5 1463.5,1006.0 1447.5,1022.5 1431.5,1006.0" fill="#008000"/>
<polygon points="1529.1,989.4 1545.1,1005.9 1529.1,1022.4 1513.1,1005.9" fill="#008000"/>
<polygon points="1610.7,989.3 1626.7,1005.8 1610.7,1022.3 1594.7,1005.8" fill="#008000"/>
<polygon points="1692.3,989.2 1708.3,1005.7 1692.3,1022.2 1676.3,1005.7" fill="#008000"/>
<polygon points="1773.8,989.2 1789.8,1005.7 1773.8,1022.2 1757.8,1005.7" fill="#008000"/>
<polygon points="1855.4,989.2 1871.4,1005.7 1855.4,1022.2 1839.4,1005.7" fill="#008000"/>
<polygon points="1937.0,989.1 1953.0,1005.6 1937.0,1022.1 1921.0,1005.6" fill="#008000"/>
<polygon points="2018.5,989.1 2034.5,1005.6 2018.5,1022.1 2002.5,1005.6" fill="#008000"/>
<path d="M224.0,1642.5 L224.4,1628.2 L224.8,1614.4 L225.2,1601.5 L225.6,1589.7 L226.0,1579.3 L226.4,1570.8 L226.9,1563.6 L227.3,1557.1 L227.7,1551.0 L228.1,1545.5 L228.5,1540.4 L228.9,1535.6 L229.3,1531.1 L229.7,1526.7 L230.1,1522.6 L230.5,1518.4 L230.9,1514.4 L231.3,1510.4 L231.7,1506.5 L232.2,1502.7 L232.6,1498.9 L233.0,1495.3 L233.4,1491.7 L233.8,1488.2 L234.2,1484.8 L234.6,1481.5 L235.0,1478.2 L235.4,1475.0 L235.8,1471.9 L236.2,1468.8 L236.6,1465.8 L237.1,1462.8 L237.5,1459.9 L237.9,1457.1 L238.3,1454.3 L238.7,1451.6 L239.1,1449.0 L239.5,1446.3 L239.9,1443.8 L240.3,1441.2 L241.9,1431.4 L243.6,1422.0 L245.2,1413.1 L246.8,1404.8 L248.5,1397.0 L250.1,1389.9 L251.7,1383.5 L253.4,1377.8 L255.0,1372.4 L256.6,1367.3 L258.3,1362.5 L259.9,1357.9 L261.5,1353.5 L263.2,1349.2 L264.8,1345.2 L266.4,1341.3 L268.0,1337.6 L269.7,1334.0 L271.3,1330.5 L272.9,1327.1 L274.6,1323.7 L276.2,1320.4 L277.8,1317.2 L279.5,1314.0 L281.1,1310.9 L282.7,1307.9 L284.4,1304.9 L286.0,1302.1 L287.6,1299.3 L289.3,1296.6 L290.9,1293.9 L292.5,1291.3 L294.2,1288.8 L295.8,1286.3 L297.4,1283.8 L299.0,1281.3 L300.7,1278.9 L302.3,1276.5 L303.9,1274.1 L305.6,1271.7 L307.2,1269.3 L308.8,1266.9 L310.5,1264.5 L312.1,1262.1 L313.7,1259.8 L315.4,1257.4 L317.0,1255.1 L318.6,1252.7 L320.3,1250.4 L321.9,1248.1 L323.5,1245.7 L325.1,1243.4 L326.8,1241.2 L328.4,1238.9 L330.0,1236.6 L331.7,1234.3 L333.3,1232.1 L334.9,1229.8 L336.6,1227.6 L338.2,1225.4 L339.8,1223.2 L341.5,1221.0 L343.1,1218.9 L344.7,1216.7 L346.4,1214.6 L348.0,1212.4 L349.6,1210.3 L351.2,1208.2 L352.9,1206.2 L354.5,1204.1 L356.1,1202.1 L357.8,1200.0 L359.4,1198.0 L361.0,1196.0 L362.7,1194.1 L364.3,1192.1 L365.9,1190.2 L367.6,1188.2 L369.2,1186.4 L370.8,1184.5 L372.5,1182.6 L374.1,1180.8 L375.7,1179.0 L377.4,1177.2 L379.0,1175.4 L380.6,1173.7 L382.2,1171.9 L383.9,1170.2 L385.5,1168.6 L387.1,1166.9 L391.2,1162.9 L395.3,1159.2 L399.4,1155.6 L403.5,1152.1 L407.5,1148.8 L411.6,1145.4 L415.7,1142.1 L419.8,1138.7 L423.8,1135.3 L427.9,1131.9 L432.0,1128.5 L436.1,1125.1 L440.2,1121.7 L444.2,1118.5 L448.3,1115.3 L452.4,1112.1 L456.5,1109.2 L460.6,1106.3 L464.6,1103.6 L468.7,1101.0 L472.8,1098.6 L476.9,1096.2 L480.9,1093.9 L485.0,1091.7 L489.1,1089.5 L493.2,1087.4 L497.3,1085.3 L501.3,1083.3 L505.4,1081.3 L509.5,1079.3 L513.6,1077.5 L517.7,1075.6 L521.7,1073.8 L525.8,1072.0 L529.9,1070.2 L534.0,1068.5 L538.0,1066.8 L542.1,1065.2 L546.2,1063.5 L550.3,1061.9 L554.4,1060.3 L558.4,1058.7 L562.5,1057.1 L566.6,1055.5 L570.7,1053.9 L574.8,1052.4 L578.8,1050.9 L582.9,1049.4 L587.0,1048.0 L591.1,1046.5 L595.1,1045.1 L599.2,1043.8 L603.3,1042.4 L607.4,1041.1 L611.5,1039.9 L615.5,1038.7 L619.6,1037.5 L623.7,1036.4 L627.8,1035.3 L631.8,1034.3 L635.9,1033.3 L640.0,1032.4 L644.1,1031.4 L648.2,1030.5 L652.2,1029.6 L656.3,1028.8 L660.4,1027.9 L664.5,1027.1 L668.6,1026.3 L672.6,1025.5 L676.7,1024.8 L680.8,1024.0 L684.9,1023.3 L688.9,1022.6 L693.0,1022.0 L697.1,1021.3 L701.2,1020.7 L705.3,1020.0 L709.3,1019.4 L713.4,1018.9 L717.5,1018.3 L721.6,1017.7 L725.7,1017.2 L729.7,1016.7 L733.8,1016.1 L737.9,1015.6 L742.0,1015.1 L746.0,1014.6 L750.1,1014.1 L754.2,1013.7 L758.3,1013.2 L762.4,1012.8 L766.4,1012.3 L770.5,1011.9 L774.6,1011.5 L778.7,1011.1 L782.8,1010.8 L786.8,1010.4 L790.9,1010.1 L795.0,1009.8 L799.1,1009.5 L803.1,1009.2 L807.2,1008.9 L811.3,1008.6 L815.4,1008.4 L819.5,1008.1 L823.5,1007.9 L827.6,1007.6 L831.7,1007.4 L835.8,1007.2 L839.9,1007.0 L843.9,1006.8 L848.0,1006.6 L852.1,1006.4 L856.2,1006.1 L860.2,1005.9 L864.3,1005.7 L868.4,1005.5 L872.5,1005.3 L876.6,1005.1 L880.6,1004.9 L884.7,1004.6 L888.8,1004.4 L892.9,1004.2 L897.0,1004.0 L901.0,1003.7 L905.1,1003.5 L909.2,1003.3 L913.3,1003.0 L917.3,1002.8 L921.4,1002.6 L925.5,1002.4 L929.6,1002.2 L933.7,1002.0 L937.7,1001.8 L941.8,1001.6 L945.9,1001.4 L950.0,1001.3 L954.1,1001.1 L958.1,1000.9 L962.2,1000.8 L966.3,1000.7 L970.4,1000.5 L974.4,1000.4 L978.5,1000.3 L982.6,1000.2 L986.7,1000.1 L990.8,1000.0 L994.8,999.9 L998.9,999.8 L1003.0,999.7 L1007.1,999.6 L1011.2,999.5 L1015.2,999.4 L1019.3,999.3 L1023.4,999.2 L1027.5,999.1 L1031.5,999.0 L1035.6,998.9 L1039.7,998.7 L1043.8,998.6 L1047.9,998.5 L1051.9,998.3 L1056.0,998.2 L1060.1,998.1 L1064.2,997.9 L1068.2,997.7 L1072.3,997.6 L1076.4,997.4 L1080.5,997.3 L1084.6,997.1 L1088.6,997.0 L1092.7,996.8 L1096.8,996.7 L1100.9,996.6 L1105.0,996.4 L1109.0,996.3 L1113.1,996.2 L1117.2,996.1 L1121.3,996.0 L1125.3,995.9 L1129.4,995.8 L1133.5,995.7 L1137.6,995.6 L1141.7,995.5 L1145.7,995.4 L1149.8,995.4 L1153.9,995.3 L1158.0,995.2 L1162.1,995.1 L1166.1,995.0 L1170.2,995.0 L1174.3,994.9 L1178.4,994.8 L1182.4,994.8 L1186.5,994.7 L1190.6,994.7 L1194.7,994.7 L1198.8,994.6 L1202.8,994.6 L1206.9,994.6 L1211.0,994.6 L1215.1,994.5 L1219.2,994.5 L1223.2,994.5 L1227.3,994.5 L1231.4,994.5 L1235.5,994.5 L1239.5,994.4 L1243.6,994.4 L1247.7,994.4 L1251.8,994.4 L1255.9,994.4 L1259.9,994.4 L1264.0,994.3 L1268.1,994.3 L1272.2,994.3 L1276.3,994.3 L1280.3,994.3 L1284.4,994.3 L1288.5,994.2 L1292.6,994.2 L1296.6,994.2 L1300.7,994.2 L1304.8,994.2 L1308.9,994.2 L1313.0,994.1 L1317.0,994.1 L1321.1,994.1 L1325.2,994.1 L1329.3,994.1 L1333.4,994.1 L1337.4,994.1 L1341.5,994.0 L1345.6,994.0 L1349.7,994.0 L1353.7,994.0 L1357.8,994.0 L1361.9,994.0 L1366.0,994.0 L1370.1,993.9 L1374.1,993.9 L1378.2,993.9 L1382.3,993.9 L1386.4,993.9 L1390.5,993.9 L1394.5,993.9 L1398.6,993.8 L1402.7,993.8 L1406.8,993.8 L1410.8,993.8 L1414.9,993.8 L1419.0,993.8 L1423.1,993.8 L1427.2,993.8 L1431.2,993.7 L1435.3,993.7 L1439.4,993.7 L1443.5,993.7 L1447.5,993.7 L1451.6,993.7 L1455.7,993.7 L1459.8,993.7 L1463.9,993.6 L1467.9,993.6 L1472.0,993.6 L1476.1,993.6 L1480.2,993.6 L1484.3,993.6 L1488.3,993.6 L1492.4,993.6 L1496.5,993.6 L1500.6,993.6 L1504.6,993.5 L1508.7,993.5 L1512.8,993.5 L1516.9,993.5 L1521.0,993.5 L1525.0,993.5 L1529.1,993.5 L1533.2,993.5 L1537.3,993.5 L1541.4,993.5 L1545.4,993.4 L1549.5,993.4 L1553.6,993.4 L1557.7,993.4 L1561.7,993.4 L1565.8,993.4 L1569.9,993.4 L1574.0,993.4 L1578.1,993.4 L1582.1,993.4 L1586.2,993.4 L1590.3,993.3 L1594.4,993.3 L1598.5,993.3 L1602.5,993.3 L1606.6,993.3 L1610.7,993.3 L1614.8,993.3 L1618.8,993.3 L1622.9,993.3 L1627.0,993.3 L1631.1,993.3 L1635.2,993.3 L1639.2,993.3 L1643.3,993.2 L1647.4,993.2 L1651.5,993.2 L1655.6,993.2 L1659.6,993.2 L1663.7,993.2 L1667.8,993.2 L1671.9,993.2 L1675.9,993.2 L1680.0,993.2 L1684.1,993.2 L1688.2,993.2 L1692.3,993.2 L1696.3,993.2 L1700.4,993.2 L1704.5,993.2 L1708.6,993.1 L1712.7,993.1 L1716.7,993.1 L1720.8,993.1 L1724.9,993.1 L1729.0,993.1 L1733.0,993.1 L1737.1,993.1 L1741.2,993.1 L1745.3,993.1 L1749.4,993.1 L1753.4,993.1 L1757.5,993.1 L1761.6,993.1 L1765.7,993.1 L1769.8,993.1 L1773.8,993.1 L1777.9,993.1 L1782.0,993.1 L1786.1,993.1 L1790.1,993.1 L1794.2,993.1 L1798.3,993.0 L1802.4,993.0 L1806.5,993.0 L1810.5,993.0 L1814.6,993.0 L1818.7,993.0 L1822.8,993.0 L1826.9,993.0 L1830.9,993.0 L1835.0,993.0 L1839.1,993.0 L1843.2,993.0 L1847.2,993.0 L1851.3,993.0 L1855.4,993.0 L1859.5,993.0 L1863.6,993.0 L1867.6,993.0 L1871.7,993.0 L1875.8,993.0 L1879.9,993.0 L1883.9,993.0 L1888.0,993.0 L1892.1,993.0 L1896.2,993.0 L1900.3,993.0 L1904.3,993.0 L1908.4,993.0 L1912.5,993.0 L1916.6,993.0 L1920.7,993.0 L1924.7,993.0 L1928.8,993.0 L1932.9,993.0 L1937.0,993.0 L1941.0,993.0 L1945.1,993.0 L1949.2,993.0 L1953.3,993.0 L1957.4,993.0 L1961.4,993.0 L1965.5,993.0 L1969.6,993.0 L1973.7,993.0 L1977.8,993.0 L1981.8,993.0 L1985.9,993.0 L1990.0,993.0 L1994.1,993.0 L1998.1,993.0 L2002.2,993.0 L2006.3,993.0 L2010.4,993.0 L2014.5,993.0 L2018.5,993.0" fill="none" stroke="#000080" stroke-width="4.5" stroke-linejoin="round"/>
<polygon points="209.5,1642.5 234.5,1627.5 234.5,1657.5" fill="#000080"/>
<polygon points="291.1,1271.7 316.1,1256.7 316.1,1286.7" fill="#000080"/>
<polygon points="372.6,1166.9 397.6,1151.9 397.6,1181.9" fill="#000080"/>
<polygon points="454.2,1101.0 479.2,1086.0 479.2,1116.0" fill="#000080"/>
<polygon points="535.8,1061.9 560.8,1046.9 560.8,1076.9" fill="#000080"/>
<polygon points="617.3,1034.3 642.3,1019.3 642.3,1049.3" fill="#000080"/>
<polygon points="698.9,1018.9 723.9,1003.9 723.9,1033.9" fill="#000080"/>
<polygon points="780.5,1009.8 805.5,994.8 805.5,1024.8" fill="#000080"/>
<polygon points="862.1,1005.1 887.1,990.1 887.1,1020.1" fill="#000080"/>
<polygon points="943.6,1000.9 968.6,985.9 968.6,1015.9" fill="#000080"/>
<polygon points="1025.2,998.7 1050.2,983.7 1050.2,1013.7" fill="#000080"/>
<polygon points="1106.8,996.0 1131.8,981.0 1131.8,1011.0" fill="#000080"/>
<polygon points="1188.3,994.6 1213.3,979.6 1213.3,1009.6" fill="#000080"/>
<polygon points="1269.9,994.3 1294.9,979.3 1294.9,1009.3" fill="#000080"/>
<polygon points="1351.5,994.0 1376.5,979.0 1376.5,1009.0" fill="#000080"/>
<polygon points="1433.0,993.7 1458.0,978.7 1458.0,1008.7" fill="#000080"/>
<polygon points="1514.6,993.5 1539.6,978.5 1539.6,1008.5" fill="#000080"/>
<polygon points="1596.2,993.3 1621.2,978.3 1621.2,1008.3" fill="#000080"/>
<polygon points="1677.8,993.2 1702.8,978.2 1702.8,1008.2" fill="#000080"/>
<polygon points="1759.3,993.1 1784.3,978.1 1784.3,1008.1" fill="#000080"/>
<polygon points="1840.9,993.0 1865.9,978.0 1865.9,1008.0" fill="#000080"/>
<polygon points="1922.5,993.0 1947.5,978.0 1947.5,1008.0" fill="#000080"/>
<polygon points="2004.0,993.0 2029.0,978.0 2029.0,1008.0" fill="#000080"/>
</g>
<g font-family="Liberation Serif, serif" font-weight="bold" font-size="62" fill="#000">
<text transform="translate(180.5,1658.5) scale(1.06,1)" text-anchor="end">30</text>
<text transform="translate(180.5,1520.7) scale(1.06,1)" text-anchor="end">35</text>
<text transform="translate(180.5,1382.8) scale(1.06,1)" text-anchor="end">40</text>
<text transform="translate(180.5,1245.0) scale(1.06,1)" text-anchor="end">45</text>
<text transform="translate(180.5,1107.1) scale(1.06,1)" text-anchor="end">50</text>
<text transform="translate(180.5,969.2) scale(1.06,1)" text-anchor="end">55</text>
<text transform="translate(180.5,831.4) scale(1.06,1)" text-anchor="end">60</text>
<text transform="translate(180.5,693.5) scale(1.06,1)" text-anchor="end">65</text>
<text transform="translate(224.0,1725) scale(1.1,1)" text-anchor="middle">0</text>
<text transform="translate(631.8,1725) scale(1.1,1)" text-anchor="middle">500</text>
<text transform="translate(1039.7,1725) scale(1.1,1)" text-anchor="middle">1000</text>
<text transform="translate(1447.5,1725) scale(1.1,1)" text-anchor="middle">1500</text>
<text transform="translate(1855.4,1725) scale(1.1,1)" text-anchor="middle">2000</text>
</g>
<g font-family="Liberation Serif, serif" font-weight="bold" font-size="58" fill="#000">
<text transform="translate(1121,1796) scale(1.16,1)" text-anchor="middle">Time (sec.)</text>
<text transform="translate(61,1166.5) rotate(-90) scale(1.03,1.1)" text-anchor="middle">Temperature (<tspan font-size="36" dy="-24">o</tspan><tspan dy="24">C)</tspan></text>
</g>
<line x1="857" y1="1478" x2="1009" y2="1478" stroke="#000000" stroke-width="4.5"/>
<rect x="919.5" y="1465.0" width="27" height="26" rx="2" fill="#000000"/>
<text transform="translate(1024.5,1497) scale(1.185,1)" font-family="Liberation Serif, serif" font-weight="bold" font-size="57">CS</text>
<line x1="1243.6" y1="1478" x2="1397" y2="1478" stroke="#FF0000" stroke-width="4.5"/>
<circle cx="1320.0" cy="1478.0" r="14.3" fill="#FF0000"/>
<text transform="translate(1410.5,1497) scale(1.185,1)" font-family="Liberation Serif, serif" font-weight="bold" font-size="57">CP</text>
<line x1="1618" y1="1478" x2="1770" y2="1478" stroke="#0000FF" stroke-width="4.5"/>
<polygon points="1694.0,1462.0 1711.5,1490.0 1676.5,1490.0" fill="#0000FF"/>
<text transform="translate(1783.5,1497) scale(1.185,1)" font-family="Liberation Serif, serif" font-weight="bold" font-size="57">HT 10</text>
<line x1="857" y1="1551" x2="1009" y2="1551" stroke="#FF00FF" stroke-width="4.5"/>
<polygon points="917.0,1541.0 949.0,1541.0 933.0,1571.0" fill="#FF00FF"/>
<text transform="translate(1024.5,1570) scale(1.185,1)" font-family="Liberation Serif, serif" font-weight="bold" font-size="57">HT 30</text>
<line x1="1239" y1="1551" x2="1391" y2="1551" stroke="#008000" stroke-width="4.5"/>
<polygon points="1315.0,1534.5 1331.0,1551.0 1315.0,1567.5 1299.0,1551.0" fill="#008000"/>
<text transform="translate(1404.5,1570) scale(1.185,1)" font-family="Liberation Serif, serif" font-weight="bold" font-size="57">HT 50</text>
<line x1="1620" y1="1551" x2="1773" y2="1551" stroke="#000080" stroke-width="4.5"/>
<polygon points="1677,1551 1707,1535.5 1707,1566.5" fill="#000080"/>
<text transform="translate(1785.5,1570) scale(1.185,1)" font-family="Liberation Serif, serif" font-weight="bold" font-size="57">HT 70</text>
</svg>
</body></html>
